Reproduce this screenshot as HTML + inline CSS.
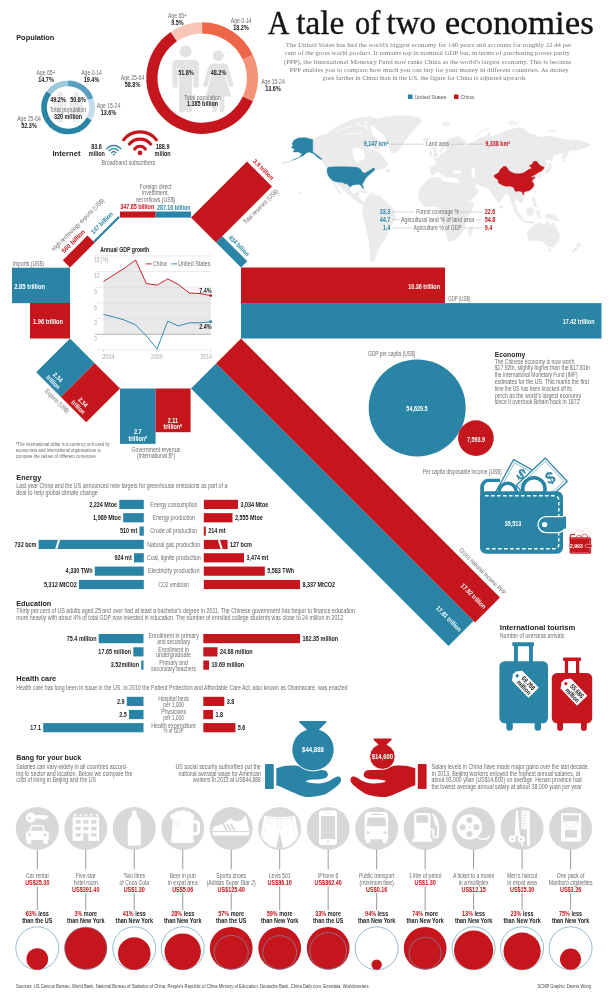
<!DOCTYPE html>
<html><head><meta charset="utf-8"><title>A tale of two economies</title>
<style>html,body{margin:0;padding:0;background:#fff}svg{display:block;will-change:transform}</style>
</head><body>
<svg width="612" height="1000" viewBox="0 0 612 1000">
<rect width="612" height="1000" fill="#fff"/>
<!-- title -->
<text transform="translate(267.70,33.80) scale(0.880,1)" font-family="'Liberation Serif',serif" font-size="34.00" fill="#151515" text-anchor="start" stroke="#151515" stroke-width="0.35">A</text>
<text transform="translate(296.30,33.80) scale(0.980,1)" font-family="'Liberation Serif',serif" font-size="34.00" fill="#151515" text-anchor="start" stroke="#151515" stroke-width="0.35">tale</text>
<text transform="translate(355.10,33.80) scale(0.893,1)" font-family="'Liberation Serif',serif" font-size="34.00" fill="#151515" text-anchor="start" stroke="#151515" stroke-width="0.35">of</text>
<text transform="translate(386.60,33.80) scale(0.971,1)" font-family="'Liberation Serif',serif" font-size="34.00" fill="#151515" text-anchor="start" stroke="#151515" stroke-width="0.35">two</text>
<text transform="translate(444.80,33.80) scale(1.025,1)" font-family="'Liberation Serif',serif" font-size="34.00" fill="#151515" text-anchor="start" stroke="#151515" stroke-width="0.35">economies</text>
<text transform="translate(285.80,47.30) scale(0.975,1)" font-family="'Liberation Serif',serif" font-size="7.00" fill="#7a7a7a" text-anchor="start">The United States has had the world's biggest economy for 140 years and accounts for roughly 22.44 per</text>
<text transform="translate(284.70,55.42) scale(0.980,1)" font-family="'Liberation Serif',serif" font-size="7.00" fill="#7a7a7a" text-anchor="start">cent of the gross world product. It remains top in nominal GDP but, in terms of purchasing power parity</text>
<text transform="translate(283.90,63.54) scale(0.981,1)" font-family="'Liberation Serif',serif" font-size="7.00" fill="#7a7a7a" text-anchor="start">(PPP), the International Monetary Fund now ranks China as the world's largest economy. This is because</text>
<text transform="translate(289.70,71.66) scale(0.984,1)" font-family="'Liberation Serif',serif" font-size="7.00" fill="#7a7a7a" text-anchor="start">PPP enables you to compare how much you can buy for your money in different countries. As money</text>
<text transform="translate(322.40,79.78) scale(0.938,1)" font-family="'Liberation Serif',serif" font-size="7.00" fill="#7a7a7a" text-anchor="start">goes further in China than in the US, the figure for China is adjusted upwards</text>
<rect x="408.00" y="94.50" width="4.50" height="4.50" fill="#2a84a6"/>
<text transform="translate(414.50,99.00) scale(0.987,1)" font-family="'Liberation Sans',sans-serif" font-size="5.40" fill="#555" text-anchor="start">United States</text>
<rect x="454.00" y="94.50" width="4.50" height="4.50" fill="#c4161c"/>
<text transform="translate(460.50,99.00) scale(0.957,1)" font-family="'Liberation Sans',sans-serif" font-size="5.40" fill="#555" text-anchor="start">China</text>
<text transform="translate(16.20,40.00) scale(0.924,1)" font-family="'Liberation Sans',sans-serif" font-size="8.00" font-weight="bold" fill="#222" text-anchor="start">Population</text>
<path d="M68.05,80.50 A26.90,26.90 0 0 1 93.30,98.13 L87.95,100.09 A21.20,21.20 0 0 0 68.05,86.20 Z" fill="#5b9fc0"/>
<path d="M93.30,98.13 A26.90,26.90 0 0 1 91.62,120.36 L86.63,117.61 A21.20,21.20 0 0 0 87.95,100.09 Z" fill="#c3ddeb"/>
<path d="M91.62,120.36 A26.90,26.90 0 1 1 46.59,91.18 L51.14,94.62 A21.20,21.20 0 1 0 86.63,117.61 Z" fill="#2a84a6"/>
<path d="M46.59,91.18 A26.90,26.90 0 0 1 68.05,80.50 L68.05,86.20 A21.20,21.20 0 0 0 51.14,94.62 Z" fill="#9cc8de"/>
<g transform="translate(60.20,91.50) scale(0.310)" fill="#ebebeb"><circle cx="0" cy="9" r="9"/><path d="M-14,22 h28 a6,6 0 0 1 6,6 v32 a4,4 0 0 1 -8,0 v-26 h-2 v62 a5,5 0 0 1 -10,0 v-36 h-0 v36 a5,5 0 0 1 -10,0 v-62 h-2 v26 a4,4 0 0 1 -8,0 v-32 a6,6 0 0 1 6,-6 z"/></g>
<g transform="translate(76.20,92.00) scale(0.300)" fill="#ebebeb"><circle cx="0" cy="9" r="9"/><path d="M-10,22 h20 a7,7 0 0 1 6,5 l9,30 a4,4 0 0 1 -7,2 l-8,-25 h-1 l12,42 h-11 v22 a4,4 0 0 1 -8,0 v-22 h-4 v22 a4,4 0 0 1 -8,0 v-22 h-11 l12,-42 h-1 l-8,25 a4,4 0 0 1 -7,-2 l9,-30 a7,7 0 0 1 6,-5 z"/></g>
<text transform="translate(58.00,101.50) scale(0.855,1)" font-family="'Liberation Sans',sans-serif" font-size="6.40" font-weight="bold" fill="#222" text-anchor="middle">49.2%</text>
<text transform="translate(78.00,101.50) scale(0.855,1)" font-family="'Liberation Sans',sans-serif" font-size="6.40" font-weight="bold" fill="#222" text-anchor="middle">50.8%</text>
<text transform="translate(68.00,112.00) scale(0.815,1)" font-family="'Liberation Sans',sans-serif" font-size="6.40" fill="#6d6d6d" text-anchor="middle">Total population</text>
<text transform="translate(68.00,118.60) scale(0.855,1)" font-family="'Liberation Sans',sans-serif" font-size="6.40" font-weight="bold" fill="#222" text-anchor="middle">320 million</text>
<text transform="translate(46.00,74.90) scale(0.800,1)" font-family="'Liberation Sans',sans-serif" font-size="6.40" fill="#6d6d6d" text-anchor="middle">Age 65+</text>
<text transform="translate(46.00,81.50) scale(0.855,1)" font-family="'Liberation Sans',sans-serif" font-size="6.40" font-weight="bold" fill="#222" text-anchor="middle">14.7%</text>
<text transform="translate(91.50,74.90) scale(0.800,1)" font-family="'Liberation Sans',sans-serif" font-size="6.40" fill="#6d6d6d" text-anchor="middle">Age 0-14</text>
<text transform="translate(91.50,81.50) scale(0.855,1)" font-family="'Liberation Sans',sans-serif" font-size="6.40" font-weight="bold" fill="#222" text-anchor="middle">19.4%</text>
<text transform="translate(108.50,108.40) scale(0.800,1)" font-family="'Liberation Sans',sans-serif" font-size="6.40" fill="#6d6d6d" text-anchor="middle">Age 15-24</text>
<text transform="translate(108.50,115.00) scale(0.855,1)" font-family="'Liberation Sans',sans-serif" font-size="6.40" font-weight="bold" fill="#222" text-anchor="middle">13.6%</text>
<text transform="translate(29.00,120.90) scale(0.800,1)" font-family="'Liberation Sans',sans-serif" font-size="6.40" fill="#6d6d6d" text-anchor="middle">Age 25-64</text>
<text transform="translate(29.00,127.50) scale(0.855,1)" font-family="'Liberation Sans',sans-serif" font-size="6.40" font-weight="bold" fill="#222" text-anchor="middle">52.3%</text>
<path d="M202.10,22.30 A55.80,55.80 0 0 1 252.88,54.98 L242.69,59.62 A44.60,44.60 0 0 0 202.10,33.50 Z" fill="#ee6648"/>
<path d="M252.88,54.98 A55.80,55.80 0 0 1 252.88,101.22 L242.69,96.58 A44.60,44.60 0 0 0 242.69,59.62 Z" fill="#f4957a"/>
<path d="M252.88,101.22 A55.80,55.80 0 1 1 170.74,31.95 L177.03,41.21 A44.60,44.60 0 1 0 242.69,96.58 Z" fill="#c4161c"/>
<path d="M170.74,31.95 A55.80,55.80 0 0 1 202.10,22.30 L202.10,33.50 A44.60,44.60 0 0 0 177.03,41.21 Z" fill="#f9c5b6"/>
<g transform="translate(185.60,45.60) scale(0.660)" fill="#e3e3e3"><circle cx="0" cy="9" r="9"/><path d="M-14,22 h28 a6,6 0 0 1 6,6 v32 a4,4 0 0 1 -8,0 v-26 h-2 v62 a5,5 0 0 1 -10,0 v-36 h-0 v36 a5,5 0 0 1 -10,0 v-62 h-2 v26 a4,4 0 0 1 -8,0 v-32 a6,6 0 0 1 6,-6 z"/></g>
<g transform="translate(218.30,50.20) scale(0.610)" fill="#e3e3e3"><circle cx="0" cy="9" r="9"/><path d="M-10,22 h20 a7,7 0 0 1 6,5 l9,30 a4,4 0 0 1 -7,2 l-8,-25 h-1 l12,42 h-11 v22 a4,4 0 0 1 -8,0 v-22 h-4 v22 a4,4 0 0 1 -8,0 v-22 h-11 l12,-42 h-1 l-8,25 a4,4 0 0 1 -7,-2 l9,-30 a7,7 0 0 1 6,-5 z"/></g>
<text transform="translate(186.00,74.60) scale(0.855,1)" font-family="'Liberation Sans',sans-serif" font-size="6.40" font-weight="bold" fill="#222" text-anchor="middle">51.8%</text>
<text transform="translate(218.50,74.60) scale(0.855,1)" font-family="'Liberation Sans',sans-serif" font-size="6.40" font-weight="bold" fill="#222" text-anchor="middle">48.2%</text>
<text transform="translate(202.50,99.50) scale(0.815,1)" font-family="'Liberation Sans',sans-serif" font-size="6.40" fill="#6d6d6d" text-anchor="middle">Total population</text>
<text transform="translate(202.50,106.30) scale(0.855,1)" font-family="'Liberation Sans',sans-serif" font-size="6.40" font-weight="bold" fill="#222" text-anchor="middle">1.385 billion</text>
<text transform="translate(177.50,17.90) scale(0.800,1)" font-family="'Liberation Sans',sans-serif" font-size="6.40" fill="#6d6d6d" text-anchor="middle">Age 65+</text>
<text transform="translate(177.50,24.50) scale(0.855,1)" font-family="'Liberation Sans',sans-serif" font-size="6.40" font-weight="bold" fill="#222" text-anchor="middle">9.5%</text>
<text transform="translate(241.00,22.90) scale(0.800,1)" font-family="'Liberation Sans',sans-serif" font-size="6.40" fill="#6d6d6d" text-anchor="middle">Age 0-14</text>
<text transform="translate(241.00,29.50) scale(0.855,1)" font-family="'Liberation Sans',sans-serif" font-size="6.40" font-weight="bold" fill="#222" text-anchor="middle">18.2%</text>
<text transform="translate(273.00,84.40) scale(0.800,1)" font-family="'Liberation Sans',sans-serif" font-size="6.40" fill="#6d6d6d" text-anchor="middle">Age 15-24</text>
<text transform="translate(273.00,91.00) scale(0.855,1)" font-family="'Liberation Sans',sans-serif" font-size="6.40" font-weight="bold" fill="#222" text-anchor="middle">13.6%</text>
<text transform="translate(132.50,79.90) scale(0.800,1)" font-family="'Liberation Sans',sans-serif" font-size="6.40" fill="#6d6d6d" text-anchor="middle">Age 25-64</text>
<text transform="translate(132.50,86.50) scale(0.855,1)" font-family="'Liberation Sans',sans-serif" font-size="6.40" font-weight="bold" fill="#222" text-anchor="middle">58.8%</text>
<text transform="translate(52.50,156.30) scale(0.955,1)" font-family="'Liberation Sans',sans-serif" font-size="8.00" font-weight="bold" fill="#222" text-anchor="start">Internet</text>
<text transform="translate(96.60,149.30) scale(0.855,1)" font-family="'Liberation Sans',sans-serif" font-size="6.40" font-weight="bold" fill="#222" text-anchor="middle">83.6</text>
<text transform="translate(96.90,155.90) scale(0.855,1)" font-family="'Liberation Sans',sans-serif" font-size="6.40" font-weight="bold" fill="#222" text-anchor="middle">milion</text>
<text transform="translate(162.60,149.30) scale(0.855,1)" font-family="'Liberation Sans',sans-serif" font-size="6.40" font-weight="bold" fill="#222" text-anchor="middle">188.9</text>
<text transform="translate(162.60,155.90) scale(0.855,1)" font-family="'Liberation Sans',sans-serif" font-size="6.40" font-weight="bold" fill="#222" text-anchor="middle">milion</text>
<text transform="translate(128.40,164.50) scale(0.815,1)" font-family="'Liberation Sans',sans-serif" font-size="6.40" fill="#6d6d6d" text-anchor="middle">Broadband subscribers</text>
<circle cx="113.80" cy="154.50" r="1.01" fill="#2a84a6"/>
<path d="M111.50,152.83 A2.84,2.84 0 0 1 116.10,152.83" fill="none" stroke="#2a84a6" stroke-width="1.33" stroke-linecap="round"/>
<path d="M109.25,150.69 A5.93,5.93 0 0 1 118.35,150.69" fill="none" stroke="#2a84a6" stroke-width="1.33" stroke-linecap="round"/>
<path d="M106.78,148.82 A9.03,9.03 0 0 1 120.82,148.82" fill="none" stroke="#2a84a6" stroke-width="1.33" stroke-linecap="round"/>
<circle cx="140.00" cy="152.90" r="2.35" fill="#c4161c"/>
<path d="M134.66,149.02 A6.60,6.60 0 0 1 145.34,149.02" fill="none" stroke="#c4161c" stroke-width="3.10" stroke-linecap="round"/>
<path d="M129.43,144.03 A13.80,13.80 0 0 1 150.57,144.03" fill="none" stroke="#c4161c" stroke-width="3.10" stroke-linecap="round"/>
<path d="M123.68,139.68 A21.00,21.00 0 0 1 156.32,139.68" fill="none" stroke="#c4161c" stroke-width="3.10" stroke-linecap="round"/>
<!-- world map -->
<polygon points="312.80,139.40 320.00,136.00 327.00,134.00 334.00,128.50 343.50,123.60 355.00,118.70 369.00,116.80 377.00,118.70 374.00,123.00 370.00,128.00 372.00,134.00 378.00,141.00 381.00,147.00 376.00,149.00 372.00,146.00 366.00,147.00 370.00,150.00 378.00,152.00 384.00,158.00 388.00,165.00 383.00,169.00 377.00,170.00 374.60,168.00 370.00,172.50 364.00,173.40 361.00,171.00 357.00,167.50 328.00,166.70 326.50,168.00 322.00,160.00 318.00,155.00 312.80,152.00" fill="#ebebeb" stroke="#ebebeb" stroke-width="0.8" stroke-linejoin="round"/>
<polygon points="352.30,150.20 355.00,147.50 359.50,148.40 364.00,152.00 364.90,157.40 362.20,161.00 358.60,160.00 359.50,163.70 356.80,161.90 354.10,157.40" fill="#fff"/>
<path d="M338,131 L352,126 M356,124 L366,127 M344,134 L362,133 M365,121 L368,131" fill="none" stroke="#fff" stroke-width="0.9" stroke-linecap="round"/>
<polygon points="386.00,169.50 389.50,169.00 389.00,172.00 386.00,172.00" fill="#ebebeb" stroke="#ebebeb" stroke-width="0.8" stroke-linejoin="round"/>
<polygon points="371.96,123.63 375.88,119.71 384.71,117.16 398.43,115.78 412.16,116.37 420.98,118.73 421.96,121.67 417.06,126.57 412.16,131.47 407.25,137.35 402.35,144.22 397.45,151.08 393.53,153.24 390.59,151.08 388.63,144.22 385.69,137.35 381.76,132.45 375.88,128.53" fill="#ebebeb" stroke="#ebebeb" stroke-width="0.8" stroke-linejoin="round"/>
<ellipse cx="426" cy="139.5" rx="3.2" ry="1.6" fill="#ebebeb"/>
<polygon points="331.96,179.12 338.82,181.86 345.69,183.04 348.63,184.41 350.59,187.35 350.20,191.27 353.53,194.22 357.45,192.25 359.41,193.24 357.45,197.16 360.39,199.12 363.33,202.06 367.25,203.04 369.22,205.39 366.27,206.57 361.37,203.63 356.47,200.69 351.57,196.76 346.67,192.84 341.76,187.94 336.86,184.02" fill="#ebebeb" stroke="#ebebeb" stroke-width="0.8" stroke-linejoin="round"/>
<polygon points="332.94,180.49 335.88,185.39 338.82,190.29 340.78,193.24 339.61,193.63 336.86,189.31 333.92,184.41" fill="#ebebeb" stroke="#ebebeb" stroke-width="0.8" stroke-linejoin="round"/>
<polygon points="358.43,190.69 363.33,190.29 367.25,192.25 366.27,193.24 361.37,192.25" fill="#ebebeb" stroke="#ebebeb" stroke-width="0.8" stroke-linejoin="round"/>
<polygon points="369.22,193.63 373.14,193.63 373.14,195.20 369.22,195.20" fill="#ebebeb" stroke="#ebebeb" stroke-width="0.8" stroke-linejoin="round"/>
<polygon points="363.60,204.78 366.40,197.79 371.98,195.00 380.37,196.40 387.35,203.38 394.34,210.37 395.17,218.75 390.15,227.13 385.95,236.91 380.37,245.29 376.17,255.07 373.94,262.06 370.59,260.66 370.03,250.88 369.19,239.70 366.40,228.53 363.60,217.35 362.20,210.37" fill="#ebebeb" stroke="#ebebeb" stroke-width="0.8" stroke-linejoin="round"/>
<polygon points="430.20,172.60 430.20,167.70 434.10,165.80 437.10,161.90 434.10,158.90 439.00,157.00 442.00,154.00 445.90,152.10 446.90,148.00 444.50,146.50 442.00,150.50 440.60,152.60 441.20,148.50 444.60,142.50 449.40,139.30 458.40,136.60 464.40,140.30 466.00,143.30 462.80,146.00 466.00,147.00 469.00,143.60 475.60,141.30 480.00,138.00 486.00,136.50 489.40,132.60 491.50,136.50 498.80,134.10 505.90,131.20 514.10,128.80 518.80,127.60 525.90,129.40 527.50,133.00 533.00,134.60 540.00,137.60 549.40,136.20 555.30,137.40 565.90,139.70 575.30,140.30 583.50,141.50 590.60,145.00 587.00,146.40 581.20,149.10 575.30,150.30 569.60,150.00 566.50,156.00 563.50,162.00 562.40,157.40 564.00,152.50 555.30,155.00 549.40,158.50 545.90,160.30 547.00,165.00 544.00,169.70 541.00,173.60 540.00,178.50 538.00,175.60 534.20,179.50 534.20,186.40 529.30,191.30 524.40,193.20 523.40,199.10 521.40,203.00 518.50,201.00 516.50,197.20 514.50,203.00 516.50,209.00 518.50,212.80 515.50,211.90 512.60,205.00 510.60,199.10 508.70,194.20 503.80,191.30 507.60,191.30 498.80,203.00 488.00,187.40 482.20,186.40 476.30,183.40 474.30,187.40 479.20,191.30 470.40,201.00 465.50,199.10 459.60,185.40 459.60,179.50 454.70,177.50 448.80,176.60 446.90,178.50 444.90,174.60 442.00,172.60 443.90,177.50 440.00,172.60 437.10,170.70 435.10,173.60 432.20,175.60" fill="#ebebeb" stroke="#ebebeb" stroke-width="0.8" stroke-linejoin="round"/>
<ellipse cx="457" cy="172" rx="4.5" ry="1.8" fill="#fff"/>
<ellipse cx="473.3" cy="172.5" rx="1.8" ry="5" fill="#fff"/>
<polygon points="508.00,122.50 513.00,120.80 518.50,123.00 516.00,125.00 510.00,124.60" fill="#f1f1f1" stroke="#f1f1f1" stroke-width="0.8" stroke-linejoin="round"/>
<polygon points="546.00,130.40 552.00,130.00 557.50,131.00 552.00,131.80" fill="#f1f1f1" stroke="#f1f1f1" stroke-width="0.8" stroke-linejoin="round"/>
<polygon points="432.50,147.50 435.00,147.00 436.00,151.00 437.50,155.50 433.50,157.00 434.00,152.50" fill="#ebebeb" stroke="#ebebeb" stroke-width="0.8" stroke-linejoin="round"/>
<polygon points="429.50,152.00 431.50,152.00 431.50,155.00 429.50,155.00" fill="#ebebeb" stroke="#ebebeb" stroke-width="0.8" stroke-linejoin="round"/>
<path d="M476.6,136.6 Q479,131.5 485.4,129.5 L488.6,128.6" fill="none" stroke="#ebebeb" stroke-width="1.3" stroke-linecap="round"/>
<polygon points="442.00,123.00 446.00,121.50 450.00,123.00 449.00,126.50 444.00,126.50" fill="#f1f1f1" stroke="#f1f1f1" stroke-width="0.8" stroke-linejoin="round"/>
<polygon points="424.30,183.40 429.20,178.50 440.00,177.50 443.00,181.50 448.80,182.50 457.60,183.40 461.60,191.30 466.50,201.00 474.30,203.00 470.40,212.80 465.50,220.70 464.50,228.50 460.60,234.40 454.70,240.30 448.80,241.30 445.90,234.40 443.90,226.60 441.00,218.70 442.00,211.90 438.00,207.00 432.20,206.00 425.30,207.00 420.40,202.00 418.40,195.20 419.40,189.30" fill="#ebebeb" stroke="#ebebeb" stroke-width="0.8" stroke-linejoin="round"/>
<polygon points="470.00,227.00 472.60,226.60 472.00,233.00 469.50,236.40 468.40,232.00" fill="#ebebeb" stroke="#ebebeb" stroke-width="0.8" stroke-linejoin="round"/>
<polygon points="549.84,162.84 551.80,165.78 549.84,170.69 545.92,173.63 544.55,172.06 548.08,168.73 548.86,164.80" fill="#ebebeb" stroke="#ebebeb" stroke-width="0.8" stroke-linejoin="round"/>
<polygon points="550.82,156.96 553.18,157.94 551.80,160.88 550.04,159.90" fill="#ebebeb" stroke="#ebebeb" stroke-width="0.8" stroke-linejoin="round"/>
<polygon points="534.75,190.29 535.92,191.27 534.75,193.63" fill="#ebebeb" stroke="#ebebeb" stroke-width="0.8" stroke-linejoin="round"/>
<polygon points="532.20,197.16 534.75,197.55 535.53,202.06 536.71,206.96 534.16,206.57 533.18,202.06" fill="#ebebeb" stroke="#ebebeb" stroke-width="0.8" stroke-linejoin="round"/>
<polygon points="513.18,208.92 516.51,210.88 521.41,216.76 523.76,220.69 521.41,220.29 517.10,215.20" fill="#ebebeb" stroke="#ebebeb" stroke-width="0.8" stroke-linejoin="round"/>
<polygon points="526.90,208.92 532.20,206.96 534.16,211.86 531.22,215.78 527.29,214.80" fill="#ebebeb" stroke="#ebebeb" stroke-width="0.8" stroke-linejoin="round"/>
<polygon points="523.37,221.08 534.16,222.06 534.16,223.24 523.37,222.25" fill="#ebebeb" stroke="#ebebeb" stroke-width="0.8" stroke-linejoin="round"/>
<polygon points="536.71,210.88 540.04,210.49 539.06,214.80 540.63,217.75 538.27,217.75" fill="#ebebeb" stroke="#ebebeb" stroke-width="0.8" stroke-linejoin="round"/>
<polygon points="544.94,214.80 549.84,213.82 554.75,215.78 559.65,220.69 554.75,220.29 549.84,218.33 545.92,217.16" fill="#ebebeb" stroke="#ebebeb" stroke-width="0.8" stroke-linejoin="round"/>
<polygon points="528.30,230.50 533.20,225.60 540.00,222.60 544.00,224.60 547.90,221.70 550.80,226.60 553.00,222.50 556.00,228.00 559.60,234.40 557.70,242.30 552.80,247.20 546.90,246.20 543.00,241.30 536.10,240.30 529.30,240.80 527.30,234.40" fill="#ebebeb" stroke="#ebebeb" stroke-width="0.8" stroke-linejoin="round"/>
<polygon points="548.00,249.00 551.00,249.00 550.00,252.00" fill="#ebebeb" stroke="#ebebeb" stroke-width="0.8" stroke-linejoin="round"/>
<polygon points="578.27,242.25 580.63,244.61 578.27,247.75 576.71,246.57" fill="#ebebeb" stroke="#ebebeb" stroke-width="0.8" stroke-linejoin="round"/>
<polygon points="575.33,247.75 577.49,248.53 573.37,252.45 572.00,251.67" fill="#ebebeb" stroke="#ebebeb" stroke-width="0.8" stroke-linejoin="round"/>
<polygon points="501.00,205.00 502.50,206.00 502.00,209.00 500.50,208.00" fill="#ebebeb" stroke="#ebebeb" stroke-width="0.8" stroke-linejoin="round"/>
<polygon points="327.16,169.06 328.06,167.27 334.35,166.73 346.94,166.73 356.83,167.27 360.43,169.06 362.23,172.12 364.93,173.20 367.63,171.40 370.32,169.96 372.12,168.71 373.92,167.81 375.00,169.60 373.02,171.40 371.22,173.20 368.53,175.36 366.37,177.52 364.93,179.86 363.49,182.19 362.41,184.35 363.13,187.05 363.67,188.85 362.23,187.95 360.97,185.25 358.63,184.35 355.04,184.71 352.34,185.25 350.18,187.05 348.74,185.79 346.94,183.45 344.78,183.99 342.99,182.55 339.75,182.19 336.15,181.65 332.91,180.76 329.86,178.06 327.70,174.46 326.98,171.40" fill="#2a84a6" stroke="#2a84a6" stroke-width="0.4" stroke-linejoin="round"/>
<polygon points="292.09,143.88 293.88,140.29 298.38,137.95 304.68,137.59 312.77,139.39 312.77,151.98 315.47,153.78 319.60,157.01 322.12,159.17 320.86,159.53 317.27,157.01 313.67,153.78 309.17,151.98 305.58,153.42 303.78,155.22 300.18,155.94 301.98,153.78 298.38,151.98 292.99,151.98 294.78,149.28 291.19,147.48 292.99,145.68" fill="#2a84a6" stroke="#2a84a6" stroke-width="0.4" stroke-linejoin="round"/>
<path d="M303.78,154.86 L298.38,157.73 L292.99,160.07" fill="none" stroke="#2a84a6" stroke-width="0.9" stroke-linecap="round"/>
<path d="M292.63,160.25 Q287.59,162.05 281.29,163.31" fill="none" stroke="#8fbdd1" stroke-width="0.5" stroke-dasharray="1.2,0.8" stroke-linecap="round"/>
<circle cx="299.5" cy="193" r="0.6" fill="#7db5cc"/>
<polygon points="493.75,175.71 495.84,174.35 498.46,172.78 499.50,170.69 501.07,168.59 503.69,166.50 505.78,166.29 507.35,168.07 508.92,170.69 511.53,172.25 515.19,173.61 519.37,173.82 523.56,172.78 526.69,170.69 529.31,169.12 531.92,168.39 530.35,166.50 529.31,165.46 531.92,164.41 532.97,162.32 534.54,161.07 536.63,161.27 538.20,163.37 540.29,165.46 542.90,166.71 544.47,167.55 543.42,169.12 541.86,170.69 539.76,171.73 537.15,173.30 535.06,174.87 532.44,175.92 530.88,176.96 532.44,177.48 534.01,176.44 535.06,177.48 532.97,179.58 531.92,181.14 533.49,183.24 534.01,185.33 532.44,187.94 530.35,190.03 527.74,191.08 525.12,191.60 523.56,192.44 524.08,194.53 523.03,194.74 522.51,192.65 520.94,191.60 518.33,191.08 516.24,191.81 514.67,190.56 514.14,188.46 512.58,186.90 510.48,186.37 507.87,186.37 505.25,186.16 502.64,185.33 500.03,183.76 497.93,182.40 498.46,180.62 496.89,179.05 494.80,177.48" fill="#c4161c" stroke="#c4161c" stroke-width="0.3" stroke-linejoin="round"/>
<text transform="translate(388.60,146.20) scale(0.855,1)" font-family="'Liberation Sans',sans-serif" font-size="6.40" font-weight="bold" fill="#2a84a6" text-anchor="end">9,147 km²</text>
<line x1="390.50" y1="144.20" x2="424.30" y2="144.20" stroke="#999" stroke-width="0.40"/>
<text transform="translate(437.50,146.20) scale(0.798,1)" font-family="'Liberation Sans',sans-serif" font-size="6.40" fill="#6d6d6d" text-anchor="middle">Land area</text>
<line x1="450.50" y1="144.20" x2="483.20" y2="144.20" stroke="#999" stroke-width="0.40"/>
<text transform="translate(485.20,146.20) scale(0.855,1)" font-family="'Liberation Sans',sans-serif" font-size="6.40" font-weight="bold" fill="#c4161c" text-anchor="start">9,338 km²</text>
<text transform="translate(390.30,214.00) scale(0.855,1)" font-family="'Liberation Sans',sans-serif" font-size="6.40" font-weight="bold" fill="#2a84a6" text-anchor="end">33.3</text>
<text transform="translate(437.60,214.00) scale(0.801,1)" font-family="'Liberation Sans',sans-serif" font-size="6.40" fill="#6d6d6d" text-anchor="middle">Forest coverage %</text>
<line x1="392.30" y1="211.90" x2="414.60" y2="211.90" stroke="#999" stroke-width="0.40"/>
<line x1="460.60" y1="211.90" x2="482.30" y2="211.90" stroke="#999" stroke-width="0.40"/>
<text transform="translate(484.70,214.00) scale(0.855,1)" font-family="'Liberation Sans',sans-serif" font-size="6.40" font-weight="bold" fill="#c4161c" text-anchor="start">22.6</text>
<text transform="translate(390.30,221.90) scale(0.855,1)" font-family="'Liberation Sans',sans-serif" font-size="6.40" font-weight="bold" fill="#2a84a6" text-anchor="end">44.7</text>
<text transform="translate(437.60,221.90) scale(0.826,1)" font-family="'Liberation Sans',sans-serif" font-size="6.40" fill="#6d6d6d" text-anchor="middle">Agricultural land % of land area</text>
<line x1="392.30" y1="219.80" x2="399.35" y2="219.80" stroke="#999" stroke-width="0.40"/>
<line x1="475.85" y1="219.80" x2="482.30" y2="219.80" stroke="#999" stroke-width="0.40"/>
<text transform="translate(484.70,221.90) scale(0.855,1)" font-family="'Liberation Sans',sans-serif" font-size="6.40" font-weight="bold" fill="#c4161c" text-anchor="start">54.8</text>
<text transform="translate(390.30,230.00) scale(0.855,1)" font-family="'Liberation Sans',sans-serif" font-size="6.40" font-weight="bold" fill="#2a84a6" text-anchor="end">1.4</text>
<text transform="translate(437.60,230.00) scale(0.797,1)" font-family="'Liberation Sans',sans-serif" font-size="6.40" fill="#6d6d6d" text-anchor="middle">Agriculture % of GDP</text>
<line x1="392.30" y1="227.90" x2="411.85" y2="227.90" stroke="#999" stroke-width="0.40"/>
<line x1="463.35" y1="227.90" x2="482.30" y2="227.90" stroke="#999" stroke-width="0.40"/>
<text transform="translate(484.70,230.00) scale(0.855,1)" font-family="'Liberation Sans',sans-serif" font-size="6.40" font-weight="bold" fill="#c4161c" text-anchor="start">9.4</text>
<!-- octagon -->
<rect x="12.00" y="267.70" width="58.00" height="35.50" fill="#2a84a6"/>
<rect x="30.00" y="303.00" width="40.00" height="35.50" fill="#c4161c"/>
<text transform="translate(12.50,265.60) scale(0.791,1)" font-family="'Liberation Sans',sans-serif" font-size="6.40" fill="#6d6d6d" text-anchor="start">Imports (US$)</text>
<text transform="translate(14.20,288.70) scale(0.918,1)" font-family="'Liberation Sans',sans-serif" font-size="6.40" font-weight="bold" fill="#fff" text-anchor="start">2.85 trillion</text>
<text transform="translate(33.00,324.20) scale(0.888,1)" font-family="'Liberation Sans',sans-serif" font-size="6.40" font-weight="bold" fill="#fff" text-anchor="start">1.96 trillion</text>
<polygon points="70.00,267.50 94.70,242.80 87.50,235.60 62.80,260.30" fill="#c4161c"/>
<polygon points="94.70,242.80 120.00,217.50 118.40,215.90 93.10,241.20" fill="#2a84a6"/>
<text transform="translate(64.20,253.50) rotate(-45.00) scale(0.959,1)" font-family="'Liberation Sans',sans-serif" font-size="6.40" font-weight="bold" fill="#c4161c" text-anchor="start">560 billion</text>
<text transform="translate(93.50,234.50) rotate(-45.00) scale(0.911,1)" font-family="'Liberation Sans',sans-serif" font-size="6.40" font-weight="bold" fill="#2a84a6" text-anchor="start">147 billion</text>
<text transform="translate(54.00,251.50) rotate(-45.00) scale(0.817,1)" font-family="'Liberation Sans',sans-serif" font-size="6.40" fill="#6d6d6d" text-anchor="start">High-technology exports (US$)</text>
<rect x="120.00" y="211.50" width="35.60" height="6.10" fill="#c4161c"/>
<rect x="155.60" y="211.50" width="35.40" height="6.10" fill="#2a84a6"/>
<text transform="translate(120.30,209.00) scale(0.846,1)" font-family="'Liberation Sans',sans-serif" font-size="6.40" font-weight="bold" fill="#c4161c" text-anchor="start">347.85 billion</text>
<text transform="translate(157.00,210.30) scale(0.834,1)" font-family="'Liberation Sans',sans-serif" font-size="6.40" font-weight="bold" fill="#2a84a6" text-anchor="start">287.16 billion</text>
<text transform="translate(155.50,188.50) scale(0.815,1)" font-family="'Liberation Sans',sans-serif" font-size="6.40" fill="#6d6d6d" text-anchor="middle">Foreign direct</text>
<text transform="translate(155.50,195.10) scale(0.815,1)" font-family="'Liberation Sans',sans-serif" font-size="6.40" fill="#6d6d6d" text-anchor="middle">investment,</text>
<text transform="translate(155.50,201.70) scale(0.815,1)" font-family="'Liberation Sans',sans-serif" font-size="6.40" fill="#6d6d6d" text-anchor="middle">net inflows (US$)</text>
<polygon points="191.00,217.50 216.00,242.50 272.00,186.50 247.00,161.50" fill="#c4161c"/>
<polygon points="216.00,242.50 241.00,267.50 247.30,261.20 222.30,236.20" fill="#2a84a6"/>
<text transform="translate(252.60,161.80) rotate(45.00) scale(0.870,1)" font-family="'Liberation Sans',sans-serif" font-size="6.40" font-weight="bold" fill="#c4161c" text-anchor="start">3.9 trillion</text>
<text transform="translate(245.80,224.50) rotate(-45.00) scale(0.797,1)" font-family="'Liberation Sans',sans-serif" font-size="6.40" fill="#6d6d6d" text-anchor="start">Total reserves (US$)</text>
<text transform="translate(228.20,238.00) rotate(45.00) scale(0.847,1)" font-family="'Liberation Sans',sans-serif" font-size="6.40" font-weight="bold" fill="#2a84a6" text-anchor="start">434 billion</text>
<rect x="241.00" y="267.50" width="204.00" height="35.70" fill="#c4161c"/>
<rect x="241.00" y="303.10" width="360.50" height="35.40" fill="#2a84a6"/>
<text transform="translate(440.00,288.70) scale(0.855,1)" font-family="'Liberation Sans',sans-serif" font-size="6.40" font-weight="bold" fill="#fff" text-anchor="end">10.36 trillion</text>
<text transform="translate(448.30,300.60) scale(0.682,1)" font-family="'Liberation Sans',sans-serif" font-size="6.40" fill="#6d6d6d" text-anchor="start">GDP (US$)</text>
<text transform="translate(594.50,323.70) scale(0.855,1)" font-family="'Liberation Sans',sans-serif" font-size="6.40" font-weight="bold" fill="#fff" text-anchor="end">17.42 trillion</text>
<polygon points="241.00,338.50 500.00,597.50 475.00,622.50 216.00,363.50" fill="#c4161c"/>
<polygon points="216.00,363.50 473.50,621.00 448.50,646.00 191.00,388.50" fill="#2a84a6"/>
<text transform="translate(460.20,586.00) rotate(45.00) scale(0.857,1)" font-family="'Liberation Sans',sans-serif" font-size="6.60" font-weight="bold" fill="#fff" text-anchor="start">17.92 trillion</text>
<text transform="translate(435.40,608.60) rotate(45.00) scale(0.857,1)" font-family="'Liberation Sans',sans-serif" font-size="6.60" font-weight="bold" fill="#fff" text-anchor="start">17.81 trillion</text>
<text transform="translate(458.70,550.50) rotate(45.00) scale(0.811,1)" font-family="'Liberation Sans',sans-serif" font-size="6.40" fill="#6d6d6d" text-anchor="start">Gross national income PPP</text>
<rect x="120.00" y="388.50" width="35.60" height="55.40" fill="#2a84a6"/>
<rect x="155.60" y="388.50" width="35.00" height="43.70" fill="#c4161c"/>
<text transform="translate(137.80,434.00) scale(0.855,1)" font-family="'Liberation Sans',sans-serif" font-size="6.40" font-weight="bold" fill="#fff" text-anchor="middle">2.7</text>
<text transform="translate(137.80,440.70) scale(0.855,1)" font-family="'Liberation Sans',sans-serif" font-size="6.40" font-weight="bold" fill="#fff" text-anchor="middle">trillion*</text>
<text transform="translate(172.80,422.60) scale(0.855,1)" font-family="'Liberation Sans',sans-serif" font-size="6.40" font-weight="bold" fill="#fff" text-anchor="middle">2.11</text>
<text transform="translate(172.80,429.30) scale(0.855,1)" font-family="'Liberation Sans',sans-serif" font-size="6.40" font-weight="bold" fill="#fff" text-anchor="middle">trillion*</text>
<text transform="translate(156.00,451.70) scale(0.815,1)" font-family="'Liberation Sans',sans-serif" font-size="6.40" fill="#6d6d6d" text-anchor="middle">Government revenue</text>
<text transform="translate(156.00,458.10) scale(0.815,1)" font-family="'Liberation Sans',sans-serif" font-size="6.40" fill="#6d6d6d" text-anchor="middle">(international $*)</text>
<polygon points="70.00,338.50 94.70,363.20 60.90,397.00 36.20,372.30" fill="#2a84a6"/>
<polygon points="94.70,363.20 120.00,388.50 86.20,422.30 60.90,397.00" fill="#c4161c"/>
<text transform="translate(56.30,378.80) rotate(45.00) scale(0.855,1)" font-family="'Liberation Sans',sans-serif" font-size="6.40" font-weight="bold" fill="#fff" text-anchor="middle">2.34</text>
<text transform="translate(51.60,383.70) rotate(45.00) scale(0.855,1)" font-family="'Liberation Sans',sans-serif" font-size="6.40" font-weight="bold" fill="#fff" text-anchor="middle">trillion</text>
<text transform="translate(81.40,403.80) rotate(45.00) scale(0.855,1)" font-family="'Liberation Sans',sans-serif" font-size="6.40" font-weight="bold" fill="#fff" text-anchor="middle">2.34</text>
<text transform="translate(76.70,408.70) rotate(45.00) scale(0.855,1)" font-family="'Liberation Sans',sans-serif" font-size="6.40" font-weight="bold" fill="#fff" text-anchor="middle">trillion</text>
<text transform="translate(44.50,391.50) rotate(45.00) scale(0.784,1)" font-family="'Liberation Sans',sans-serif" font-size="6.40" fill="#6d6d6d" text-anchor="start">Exports (US$)</text>
<text transform="translate(15.80,446.30) scale(0.852,1)" font-family="'Liberation Sans',sans-serif" font-size="5.00" fill="#6d6d6d" text-anchor="start">*The international dollar is a currency unit used by</text>
<text transform="translate(15.80,452.35) scale(0.852,1)" font-family="'Liberation Sans',sans-serif" font-size="5.00" fill="#6d6d6d" text-anchor="start">economists and international organisations to</text>
<text transform="translate(15.80,458.40) scale(0.860,1)" font-family="'Liberation Sans',sans-serif" font-size="5.00" fill="#6d6d6d" text-anchor="start">compare the values of different currencies</text>
<polygon points="103.40,281.48 114.13,274.68 124.86,267.88 135.59,260.03 146.32,283.57 157.05,285.14 167.78,278.86 178.51,284.62 189.24,292.98 199.97,293.51 210.70,295.60 210.70,334.30 103.40,334.30" fill="#e9e9e9"/>
<line x1="94.80" y1="255.85" x2="211.20" y2="255.85" stroke="#cfcfcf" stroke-width="0.45"/>
<line x1="94.80" y1="271.54" x2="211.20" y2="271.54" stroke="#cfcfcf" stroke-width="0.45"/>
<line x1="94.80" y1="287.23" x2="211.20" y2="287.23" stroke="#cfcfcf" stroke-width="0.45"/>
<line x1="94.80" y1="302.92" x2="211.20" y2="302.92" stroke="#cfcfcf" stroke-width="0.45"/>
<line x1="94.80" y1="318.61" x2="211.20" y2="318.61" stroke="#cfcfcf" stroke-width="0.45"/>
<line x1="94.80" y1="334.30" x2="211.20" y2="334.30" stroke="#888" stroke-width="0.60"/>
<line x1="94.80" y1="349.70" x2="211.20" y2="349.70" stroke="#cfcfcf" stroke-width="0.45"/>
<line x1="103.40" y1="349.70" x2="103.40" y2="352.00" stroke="#aaa" stroke-width="0.45"/>
<line x1="157.05" y1="349.70" x2="157.05" y2="352.00" stroke="#aaa" stroke-width="0.45"/>
<line x1="210.70" y1="349.70" x2="210.70" y2="352.00" stroke="#aaa" stroke-width="0.45"/>
<polyline points="103.40,281.48 114.13,274.68 124.86,267.88 135.59,260.03 146.32,283.57 157.05,285.14 167.78,278.86 178.51,284.62 189.24,292.98 199.97,293.51 210.70,295.60" fill="none" stroke="#c4161c" stroke-width="0.95" stroke-linejoin="round"/>
<polyline points="103.40,314.43 114.13,317.04 124.86,320.18 135.59,324.89 146.32,335.87 157.05,348.94 167.78,321.23 178.51,325.93 189.24,322.79 199.97,322.79 210.70,321.75" fill="none" stroke="#2a84a6" stroke-width="0.95" stroke-linejoin="round"/>
<circle cx="210.70" cy="295.60" r="1.40" fill="#c4161c"/>
<circle cx="210.70" cy="321.75" r="1.40" fill="#2a84a6"/>
<text transform="translate(100.20,251.80) scale(0.812,1)" font-family="'Liberation Sans',sans-serif" font-size="6.40" font-weight="bold" fill="#222" text-anchor="start">Annual GDP growth</text>
<text transform="translate(94.00,262.40) scale(0.769,1)" font-family="'Liberation Sans',sans-serif" font-size="6.40" fill="#aaa" text-anchor="start">15 (%)</text>
<text transform="translate(94.00,278.14) scale(0.815,1)" font-family="'Liberation Sans',sans-serif" font-size="6.40" fill="#aaa" text-anchor="start">12</text>
<text transform="translate(94.00,293.83) scale(0.815,1)" font-family="'Liberation Sans',sans-serif" font-size="6.40" fill="#aaa" text-anchor="start">9</text>
<text transform="translate(94.00,309.52) scale(0.815,1)" font-family="'Liberation Sans',sans-serif" font-size="6.40" fill="#aaa" text-anchor="start">6</text>
<text transform="translate(94.00,325.21) scale(0.815,1)" font-family="'Liberation Sans',sans-serif" font-size="6.40" fill="#aaa" text-anchor="start">3</text>
<text transform="translate(94.00,340.90) scale(0.815,1)" font-family="'Liberation Sans',sans-serif" font-size="6.40" fill="#aaa" text-anchor="start">0</text>
<text transform="translate(102.20,358.50) scale(0.878,1)" font-family="'Liberation Sans',sans-serif" font-size="6.40" fill="#aaa" text-anchor="start">2004</text>
<text transform="translate(156.80,358.50) scale(0.815,1)" font-family="'Liberation Sans',sans-serif" font-size="6.40" fill="#aaa" text-anchor="middle">2009</text>
<text transform="translate(212.00,358.50) scale(0.815,1)" font-family="'Liberation Sans',sans-serif" font-size="6.40" fill="#aaa" text-anchor="end">2014</text>
<line x1="145.80" y1="263.90" x2="151.70" y2="263.90" stroke="#c4161c" stroke-width="0.95"/>
<text transform="translate(153.10,266.10) scale(0.807,1)" font-family="'Liberation Sans',sans-serif" font-size="6.40" fill="#6d6d6d" text-anchor="start">China</text>
<line x1="171.30" y1="263.90" x2="177.00" y2="263.90" stroke="#2a84a6" stroke-width="0.95"/>
<text transform="translate(178.10,266.10) scale(0.846,1)" font-family="'Liberation Sans',sans-serif" font-size="6.40" fill="#6d6d6d" text-anchor="start">United States</text>
<text transform="translate(211.70,292.80) scale(0.855,1)" font-family="'Liberation Sans',sans-serif" font-size="6.40" font-weight="bold" fill="#222" text-anchor="end">7.4%</text>
<text transform="translate(211.70,329.40) scale(0.855,1)" font-family="'Liberation Sans',sans-serif" font-size="6.40" font-weight="bold" fill="#222" text-anchor="end">2.4%</text>
<!-- gdp per capita -->
<text transform="translate(368.00,355.80) scale(0.765,1)" font-family="'Liberation Sans',sans-serif" font-size="6.40" fill="#6d6d6d" text-anchor="start">GDP per capita (US$)</text>
<circle cx="417.20" cy="407.90" r="48.50" fill="#2a84a6"/>
<circle cx="475.90" cy="438.10" r="17.80" fill="#c4161c"/>
<text transform="translate(417.00,411.40) scale(0.855,1)" font-family="'Liberation Sans',sans-serif" font-size="6.40" font-weight="bold" fill="#fff" text-anchor="middle">54,629.5</text>
<text transform="translate(476.00,441.70) scale(0.855,1)" font-family="'Liberation Sans',sans-serif" font-size="6.40" font-weight="bold" fill="#fff" text-anchor="middle">7,593.9</text>
<text transform="translate(494.70,357.00) scale(0.869,1)" font-family="'Liberation Sans',sans-serif" font-size="7.80" font-weight="bold" fill="#222" text-anchor="start">Economy</text>
<text transform="translate(494.70,363.60) scale(0.789,1)" font-family="'Liberation Sans',sans-serif" font-size="6.40" fill="#6d6d6d" text-anchor="start">The Chinese economy is now worth</text>
<text transform="translate(494.70,370.38) scale(0.801,1)" font-family="'Liberation Sans',sans-serif" font-size="6.40" fill="#6d6d6d" text-anchor="start">$17.92tn, slightly higher than the $17.81tn</text>
<text transform="translate(494.70,377.16) scale(0.770,1)" font-family="'Liberation Sans',sans-serif" font-size="6.40" fill="#6d6d6d" text-anchor="start">the International Monetary Fund (IMF)</text>
<text transform="translate(494.70,383.94) scale(0.818,1)" font-family="'Liberation Sans',sans-serif" font-size="6.40" fill="#6d6d6d" text-anchor="start">estimates for the US. This marks the first</text>
<text transform="translate(494.70,390.72) scale(0.744,1)" font-family="'Liberation Sans',sans-serif" font-size="6.40" fill="#6d6d6d" text-anchor="start">time the US has been knocked off its</text>
<text transform="translate(494.70,397.50) scale(0.820,1)" font-family="'Liberation Sans',sans-serif" font-size="6.40" fill="#6d6d6d" text-anchor="start">perch as the world's largest economy</text>
<text transform="translate(494.70,404.28) scale(0.816,1)" font-family="'Liberation Sans',sans-serif" font-size="6.40" fill="#6d6d6d" text-anchor="start">since it overtook Britain back in 1872</text>
<text transform="translate(422.80,473.80) scale(0.774,1)" font-family="'Liberation Sans',sans-serif" font-size="6.40" fill="#6d6d6d" text-anchor="start">Per capita disposable income (US$)</text>
<!-- wallet -->
<g transform="translate(513.6,459.6) rotate(29)"><rect x="0" y="0" width="22.5" height="37" fill="#fff" stroke="#2a84a6" stroke-width="1.3" stroke-linejoin="round"/><rect x="2.4" y="2.4" width="17.7" height="32" fill="none" stroke="#2a84a6" stroke-width="0.5"/></g>
<g transform="translate(545.4,458.1) rotate(47)"><rect x="0" y="0" width="32" height="40" fill="#fff" stroke="#2a84a6" stroke-width="1.3" stroke-linejoin="round"/><rect x="2.4" y="2.4" width="27.2" height="35.2" fill="none" stroke="#2a84a6" stroke-width="0.5"/></g>
<text transform="translate(552.60,483.20) rotate(-24.00) scale(0.950,1)" font-family="'Liberation Sans',sans-serif" font-size="17.00" font-weight="bold" fill="#2a84a6" text-anchor="middle">$</text>
<text transform="translate(518.70,478.90) rotate(27.00) scale(0.950,1)" font-family="'Liberation Sans',sans-serif" font-size="15.00" font-weight="bold" fill="#2a84a6" text-anchor="middle">$</text>
<circle cx="507.6" cy="491.8" r="8.6" fill="#fff" stroke="#2a84a6" stroke-width="3.4"/>
<circle cx="533.9" cy="488.9" r="11.2" fill="#fff" stroke="#2a84a6" stroke-width="3.6"/>
<path d="M480.2,505 V487 a8.2,8.2 0 0 1 8.2,-8.2 H500 v3.2 H489 a5,5 0 0 0 -5,5 V505 Z" fill="#2a84a6"/>
<rect x="480" y="491.2" width="83" height="62.6" rx="6" ry="6" fill="#2a84a6"/>
<path d="M485,495.8 H554.6 a4.2,4.2 0 0 1 4.2,4.2 V544.6 a4.2,4.2 0 0 1 -4.2,4.2 H485" fill="none" stroke="#fff" stroke-width="1.4" stroke-dasharray="3.6,2.4"/>
<path d="M565.8,516.6 H546 a8,8 0 0 0 0,16 H558 a7.8,7.8 0 0 0 7.8,-7.8 Z" fill="#2a84a6" stroke="#fff" stroke-width="1.3"/>
<rect x="562.90" y="516.60" width="3.20" height="12.00" fill="#2a84a6"/>
<circle cx="544.60" cy="524.60" r="2.70" fill="#fff"/>
<text transform="translate(513.00,526.20) scale(0.855,1)" font-family="'Liberation Sans',sans-serif" font-size="6.40" font-weight="bold" fill="#fff" text-anchor="middle">39,513</text>
<g transform="translate(577.2,529.2) rotate(27)"><rect x="0" y="0" width="6.4" height="9" fill="#fff" stroke="#e9a0a3" stroke-width="0.4"/></g>
<g transform="translate(586.2,528.2) rotate(47)"><rect x="0" y="0" width="7.6" height="9" fill="#fff" stroke="#e9a0a3" stroke-width="0.4"/></g>
<circle cx="578.8" cy="537.6" r="2.4" fill="#fff" stroke="#d9595d" stroke-width="0.9"/>
<circle cx="584.6" cy="537" r="3" fill="#fff" stroke="#d9595d" stroke-width="0.9"/>
<path d="M569.6,540 V536 a2,2 0 0 1 2,-2 H575 v0.9 H572 a1.2,1.2 0 0 0 -1.2,1.2 V540 Z" fill="#c4161c"/>
<rect x="569.6" y="537.3" width="21.5" height="16.5" rx="1.6" ry="1.6" fill="#c4161c"/>
<path d="M571,538.4 H588.6 a1.1,1.1 0 0 1 1.1,1.1 V551.6 a1.1,1.1 0 0 1 -1.1,1.1 H571" fill="none" stroke="#fff" stroke-width="0.45" stroke-dasharray="0.9,0.7"/>
<path d="M591.8,544.3 H586.6 a1.6,1.6 0 0 0 0,3.2 H591.8 Z" fill="#c4161c" stroke="#fff" stroke-width="0.45"/>
<text transform="translate(576.40,548.10) scale(0.838,1)" font-family="'Liberation Sans',sans-serif" font-size="6.20" font-weight="bold" fill="#fff" text-anchor="middle">2,993</text>
<!-- tourism -->
<text transform="translate(499.80,629.50) scale(1.026,1)" font-family="'Liberation Sans',sans-serif" font-size="7.40" font-weight="bold" fill="#222" text-anchor="start">International tourism</text>
<text transform="translate(499.80,638.40) scale(0.806,1)" font-family="'Liberation Sans',sans-serif" font-size="6.40" fill="#6d6d6d" text-anchor="start">Number of overseas arrivals</text>
<rect x="499.40" y="661.30" width="48.60" height="61.90" rx="5.2" ry="5.2" fill="#2a84a6"/>
<rect x="512.30" y="642.30" width="21.70" height="4.00" rx="1" ry="1" fill="#2a84a6"/>
<rect x="514.00" y="643.30" width="3.90" height="19.00" fill="#2a84a6"/>
<rect x="529.00" y="643.30" width="3.90" height="19.00" fill="#2a84a6"/>
<path d="M506.30,722.20 V727.55 a3.25,3.25 0 0 0 6.50,0 V722.20 Z" fill="#2a84a6"/>
<path d="M534.60,722.20 V727.55 a3.25,3.25 0 0 0 6.50,0 V722.20 Z" fill="#2a84a6"/>
<rect x="551.80" y="673.00" width="40.40" height="50.20" rx="5.2" ry="5.2" fill="#c4161c"/>
<rect x="563.00" y="657.40" width="18.00" height="3.60" rx="1" ry="1" fill="#c4161c"/>
<rect x="564.80" y="658.40" width="3.30" height="15.60" fill="#c4161c"/>
<rect x="576.00" y="658.40" width="3.30" height="15.60" fill="#c4161c"/>
<path d="M557.20,722.20 V727.90 a2.90,2.90 0 0 0 5.80,0 V722.20 Z" fill="#c4161c"/>
<path d="M581.00,722.20 V727.90 a2.90,2.90 0 0 0 5.80,0 V722.20 Z" fill="#c4161c"/>
<g transform="translate(524.60,683.40) rotate(46)">
<path d="M-14.6,-2 L-10.8,-7.2 H13 V7.2 H-10.8 L-14.6,2 Z" fill="#fff"/>
<circle cx="-10.6" cy="0" r="1.6" fill="#2a84a6"/>
<text transform="translate(2.40,-0.60) scale(0.800,1)" font-family="'Liberation Sans',sans-serif" font-size="6.80" font-weight="bold" fill="#222" text-anchor="middle">69.768</text>
<text transform="translate(2.40,5.60) scale(0.800,1)" font-family="'Liberation Sans',sans-serif" font-size="6.80" font-weight="bold" fill="#222" text-anchor="middle">million</text>
</g>
<g transform="translate(573.20,691.30) rotate(46)">
<path d="M-14.6,-2 L-10.8,-7.2 H13 V7.2 H-10.8 L-14.6,2 Z" fill="#fff"/>
<circle cx="-10.6" cy="0" r="1.6" fill="#c4161c"/>
<text transform="translate(2.40,-0.60) scale(0.800,1)" font-family="'Liberation Sans',sans-serif" font-size="6.80" font-weight="bold" fill="#222" text-anchor="middle">55.686</text>
<text transform="translate(2.40,5.60) scale(0.800,1)" font-family="'Liberation Sans',sans-serif" font-size="6.80" font-weight="bold" fill="#222" text-anchor="middle">million</text>
</g>
<!-- energy -->
<text transform="translate(16.30,479.80) scale(0.970,1)" font-family="'Liberation Sans',sans-serif" font-size="7.60" font-weight="bold" fill="#222" text-anchor="start">Energy</text>
<text transform="translate(16.30,488.00) scale(0.827,1)" font-family="'Liberation Sans',sans-serif" font-size="6.40" fill="#6d6d6d" text-anchor="start">Last year China and the US announced new targets for greenhouse emissions as part of a</text>
<text transform="translate(16.30,494.70) scale(0.842,1)" font-family="'Liberation Sans',sans-serif" font-size="6.40" fill="#6d6d6d" text-anchor="start">deal to help global climate change</text>
<rect x="119.30" y="499.80" width="24.50" height="9.20" fill="#2a84a6"/>
<rect x="203.80" y="499.80" width="34.20" height="9.20" fill="#c4161c"/>
<text transform="translate(117.10,506.60) scale(0.855,1)" font-family="'Liberation Sans',sans-serif" font-size="6.40" font-weight="bold" fill="#222" text-anchor="end">2,224 Mtoe</text>
<text transform="translate(240.40,506.60) scale(0.855,1)" font-family="'Liberation Sans',sans-serif" font-size="6.40" font-weight="bold" fill="#222" text-anchor="start">3,034 Mtoe</text>
<text transform="translate(173.80,506.50) scale(0.806,1)" font-family="'Liberation Sans',sans-serif" font-size="6.40" fill="#6d6d6d" text-anchor="middle">Energy consumption</text>
<rect x="123.20" y="513.15" width="20.60" height="9.20" fill="#2a84a6"/>
<rect x="203.80" y="513.15" width="28.70" height="9.20" fill="#c4161c"/>
<text transform="translate(121.00,519.95) scale(0.855,1)" font-family="'Liberation Sans',sans-serif" font-size="6.40" font-weight="bold" fill="#222" text-anchor="end">1,989 Mtoe</text>
<text transform="translate(234.90,519.95) scale(0.855,1)" font-family="'Liberation Sans',sans-serif" font-size="6.40" font-weight="bold" fill="#222" text-anchor="start">2,555 Mtoe</text>
<text transform="translate(173.80,519.85) scale(0.818,1)" font-family="'Liberation Sans',sans-serif" font-size="6.40" fill="#6d6d6d" text-anchor="middle">Energy production</text>
<rect x="139.50" y="526.50" width="4.30" height="9.20" fill="#2a84a6"/>
<rect x="203.80" y="526.50" width="2.00" height="9.20" fill="#c4161c"/>
<text transform="translate(137.30,533.30) scale(0.855,1)" font-family="'Liberation Sans',sans-serif" font-size="6.40" font-weight="bold" fill="#222" text-anchor="end">510 mt</text>
<text transform="translate(208.20,533.30) scale(0.855,1)" font-family="'Liberation Sans',sans-serif" font-size="6.40" font-weight="bold" fill="#222" text-anchor="start">214 mt</text>
<text transform="translate(173.80,533.20) scale(0.821,1)" font-family="'Liberation Sans',sans-serif" font-size="6.40" fill="#6d6d6d" text-anchor="middle">Crude oil production</text>
<rect x="38.60" y="539.85" width="105.20" height="9.20" fill="#2a84a6"/>
<rect x="203.80" y="539.85" width="23.80" height="9.20" fill="#c4161c"/>
<text transform="translate(36.40,546.65) scale(0.855,1)" font-family="'Liberation Sans',sans-serif" font-size="6.40" font-weight="bold" fill="#222" text-anchor="end">732 bcm</text>
<text transform="translate(230.00,546.65) scale(0.855,1)" font-family="'Liberation Sans',sans-serif" font-size="6.40" font-weight="bold" fill="#222" text-anchor="start">127 bcm</text>
<text transform="translate(173.80,546.55) scale(0.823,1)" font-family="'Liberation Sans',sans-serif" font-size="6.40" fill="#6d6d6d" text-anchor="middle">Natural gas production</text>
<polygon points="58.10,539.55 60.20,539.55 57.20,549.35 55.10,549.35" fill="#fff"/>
<polygon points="217.70,539.55 219.80,539.55 222.80,549.35 220.70,549.35" fill="#fff"/>
<rect x="134.00" y="553.20" width="9.80" height="9.20" fill="#2a84a6"/>
<rect x="203.80" y="553.20" width="40.20" height="9.20" fill="#c4161c"/>
<text transform="translate(131.80,560.00) scale(0.855,1)" font-family="'Liberation Sans',sans-serif" font-size="6.40" font-weight="bold" fill="#222" text-anchor="end">924 mt</text>
<text transform="translate(246.40,560.00) scale(0.855,1)" font-family="'Liberation Sans',sans-serif" font-size="6.40" font-weight="bold" fill="#222" text-anchor="start">3,474 mt</text>
<text transform="translate(173.80,559.90) scale(0.829,1)" font-family="'Liberation Sans',sans-serif" font-size="6.40" fill="#6d6d6d" text-anchor="middle">Coal, lignite production</text>
<rect x="94.80" y="566.55" width="49.00" height="9.20" fill="#2a84a6"/>
<rect x="203.80" y="566.55" width="61.00" height="9.20" fill="#c4161c"/>
<text transform="translate(92.60,573.35) scale(0.855,1)" font-family="'Liberation Sans',sans-serif" font-size="6.40" font-weight="bold" fill="#222" text-anchor="end">4,330 TWh</text>
<text transform="translate(267.20,573.35) scale(0.855,1)" font-family="'Liberation Sans',sans-serif" font-size="6.40" font-weight="bold" fill="#222" text-anchor="start">5,583 TWh</text>
<text transform="translate(173.80,573.25) scale(0.872,1)" font-family="'Liberation Sans',sans-serif" font-size="6.40" fill="#6d6d6d" text-anchor="middle">Electricity production</text>
<rect x="79.00" y="579.90" width="64.80" height="9.20" fill="#2a84a6"/>
<rect x="203.80" y="579.90" width="96.20" height="9.20" fill="#c4161c"/>
<text transform="translate(76.80,586.70) scale(0.855,1)" font-family="'Liberation Sans',sans-serif" font-size="6.40" font-weight="bold" fill="#222" text-anchor="end">5,312 MtCO2</text>
<text transform="translate(302.40,586.70) scale(0.855,1)" font-family="'Liberation Sans',sans-serif" font-size="6.40" font-weight="bold" fill="#222" text-anchor="start">8,337 MtCO2</text>
<text transform="translate(173.80,586.60) scale(0.759,1)" font-family="'Liberation Sans',sans-serif" font-size="6.40" fill="#6d6d6d" text-anchor="middle">CO2 emission</text>
<!-- education -->
<text transform="translate(16.30,605.60) scale(0.953,1)" font-family="'Liberation Sans',sans-serif" font-size="7.60" font-weight="bold" fill="#222" text-anchor="start">Education</text>
<text transform="translate(16.30,612.90) scale(0.828,1)" font-family="'Liberation Sans',sans-serif" font-size="6.40" fill="#6d6d6d" text-anchor="start">Thirty per cent of US adults aged 25 and over had at least a bachelor's degree in 2011. The Chinese government has begun to finance education</text>
<text transform="translate(16.30,619.80) scale(0.826,1)" font-family="'Liberation Sans',sans-serif" font-size="6.40" fill="#6d6d6d" text-anchor="start">more heavily with about 4% of total GDP now invested in education. The number of enrolled college students was close to 24 million in 2012</text>
<rect x="98.70" y="634.00" width="44.80" height="9.20" fill="#2a84a6"/>
<rect x="203.30" y="634.00" width="96.70" height="9.20" fill="#c4161c"/>
<text transform="translate(96.50,640.80) scale(0.855,1)" font-family="'Liberation Sans',sans-serif" font-size="6.40" font-weight="bold" fill="#222" text-anchor="end">75.4 million</text>
<text transform="translate(302.40,640.80) scale(0.855,1)" font-family="'Liberation Sans',sans-serif" font-size="6.40" font-weight="bold" fill="#222" text-anchor="start">162.35 million</text>
<text transform="translate(173.60,638.40) scale(0.850,1)" font-family="'Liberation Sans',sans-serif" font-size="6.30" fill="#6d6d6d" text-anchor="middle">Enrollment in primary</text>
<text transform="translate(173.60,644.00) scale(0.799,1)" font-family="'Liberation Sans',sans-serif" font-size="6.30" fill="#6d6d6d" text-anchor="middle">and secondary</text>
<rect x="133.30" y="647.25" width="10.20" height="9.20" fill="#2a84a6"/>
<rect x="203.30" y="647.25" width="14.20" height="9.20" fill="#c4161c"/>
<text transform="translate(131.10,654.05) scale(0.855,1)" font-family="'Liberation Sans',sans-serif" font-size="6.40" font-weight="bold" fill="#222" text-anchor="end">17.65 million</text>
<text transform="translate(219.90,654.05) scale(0.855,1)" font-family="'Liberation Sans',sans-serif" font-size="6.40" font-weight="bold" fill="#222" text-anchor="start">24.68 million</text>
<text transform="translate(173.60,651.65) scale(0.835,1)" font-family="'Liberation Sans',sans-serif" font-size="6.30" fill="#6d6d6d" text-anchor="middle">Enrollment in</text>
<text transform="translate(173.60,657.25) scale(0.854,1)" font-family="'Liberation Sans',sans-serif" font-size="6.30" fill="#6d6d6d" text-anchor="middle">undergraduate</text>
<rect x="141.20" y="660.50" width="2.30" height="9.20" fill="#2a84a6"/>
<rect x="203.30" y="660.50" width="5.70" height="9.20" fill="#c4161c"/>
<text transform="translate(139.00,667.30) scale(0.855,1)" font-family="'Liberation Sans',sans-serif" font-size="6.40" font-weight="bold" fill="#222" text-anchor="end">3.52million</text>
<text transform="translate(211.40,667.30) scale(0.855,1)" font-family="'Liberation Sans',sans-serif" font-size="6.40" font-weight="bold" fill="#222" text-anchor="start">10.69 million</text>
<text transform="translate(173.60,664.90) scale(0.848,1)" font-family="'Liberation Sans',sans-serif" font-size="6.30" fill="#6d6d6d" text-anchor="middle">Primary and</text>
<text transform="translate(173.60,670.50) scale(0.819,1)" font-family="'Liberation Sans',sans-serif" font-size="6.30" fill="#6d6d6d" text-anchor="middle">secondary teachers</text>
<!-- health -->
<text transform="translate(16.30,680.70) scale(0.976,1)" font-family="'Liberation Sans',sans-serif" font-size="7.60" font-weight="bold" fill="#222" text-anchor="start">Health care</text>
<text transform="translate(16.30,689.60) scale(0.824,1)" font-family="'Liberation Sans',sans-serif" font-size="6.40" fill="#6d6d6d" text-anchor="start">Health care has long been in issue in the US. In 2010 the Patient Protection and Affordable Care Act, also known as Obamacare, was enacted</text>
<rect x="126.80" y="696.80" width="16.70" height="9.20" fill="#2a84a6"/>
<rect x="203.30" y="696.80" width="21.00" height="9.20" fill="#c4161c"/>
<text transform="translate(124.60,703.60) scale(0.855,1)" font-family="'Liberation Sans',sans-serif" font-size="6.40" font-weight="bold" fill="#222" text-anchor="end">2.9</text>
<text transform="translate(226.70,703.60) scale(0.855,1)" font-family="'Liberation Sans',sans-serif" font-size="6.40" font-weight="bold" fill="#222" text-anchor="start">3.8</text>
<text transform="translate(173.60,701.20) scale(0.812,1)" font-family="'Liberation Sans',sans-serif" font-size="6.30" fill="#6d6d6d" text-anchor="middle">Hospital beds</text>
<text transform="translate(173.60,706.80) scale(0.789,1)" font-family="'Liberation Sans',sans-serif" font-size="6.30" fill="#6d6d6d" text-anchor="middle">per 1,000</text>
<rect x="129.00" y="709.95" width="14.50" height="9.20" fill="#2a84a6"/>
<rect x="203.30" y="709.95" width="9.70" height="9.20" fill="#c4161c"/>
<text transform="translate(126.80,716.75) scale(0.855,1)" font-family="'Liberation Sans',sans-serif" font-size="6.40" font-weight="bold" fill="#222" text-anchor="end">2.5</text>
<text transform="translate(215.40,716.75) scale(0.855,1)" font-family="'Liberation Sans',sans-serif" font-size="6.40" font-weight="bold" fill="#222" text-anchor="start">1.8</text>
<text transform="translate(173.60,714.35) scale(0.830,1)" font-family="'Liberation Sans',sans-serif" font-size="6.30" fill="#6d6d6d" text-anchor="middle">Physicians</text>
<text transform="translate(173.60,719.95) scale(0.789,1)" font-family="'Liberation Sans',sans-serif" font-size="6.30" fill="#6d6d6d" text-anchor="middle">per 1,000</text>
<rect x="43.20" y="723.10" width="100.30" height="9.20" fill="#2a84a6"/>
<rect x="203.30" y="723.10" width="32.10" height="9.20" fill="#c4161c"/>
<text transform="translate(41.00,729.90) scale(0.855,1)" font-family="'Liberation Sans',sans-serif" font-size="6.40" font-weight="bold" fill="#222" text-anchor="end">17.1</text>
<text transform="translate(237.80,729.90) scale(0.855,1)" font-family="'Liberation Sans',sans-serif" font-size="6.40" font-weight="bold" fill="#222" text-anchor="start">5.6</text>
<text transform="translate(173.60,727.50) scale(0.847,1)" font-family="'Liberation Sans',sans-serif" font-size="6.30" fill="#6d6d6d" text-anchor="middle">Health expenditure</text>
<text transform="translate(173.60,733.10) scale(0.714,1)" font-family="'Liberation Sans',sans-serif" font-size="6.30" fill="#6d6d6d" text-anchor="middle">% of GDP</text>
<!-- bang -->
<text transform="translate(16.30,760.20) scale(0.933,1)" font-family="'Liberation Sans',sans-serif" font-size="7.60" font-weight="bold" fill="#222" text-anchor="start">Bang for your buck</text>
<text transform="translate(16.30,769.30) scale(0.829,1)" font-family="'Liberation Sans',sans-serif" font-size="6.40" fill="#6d6d6d" text-anchor="start">Salaries can vary widely in all countries accord-</text>
<text transform="translate(16.30,775.85) scale(0.835,1)" font-family="'Liberation Sans',sans-serif" font-size="6.40" fill="#6d6d6d" text-anchor="start">ing to sector and location. Below we compare the</text>
<text transform="translate(16.30,782.40) scale(0.827,1)" font-family="'Liberation Sans',sans-serif" font-size="6.40" fill="#6d6d6d" text-anchor="start">cost of living in Beijing and the US</text>
<text transform="translate(260.80,769.30) scale(0.826,1)" font-family="'Liberation Sans',sans-serif" font-size="6.40" fill="#6d6d6d" text-anchor="end">US social security authorities put the</text>
<text transform="translate(260.80,775.85) scale(0.808,1)" font-family="'Liberation Sans',sans-serif" font-size="6.40" fill="#6d6d6d" text-anchor="end">national average wage for American</text>
<text transform="translate(260.80,782.40) scale(0.790,1)" font-family="'Liberation Sans',sans-serif" font-size="6.40" fill="#6d6d6d" text-anchor="end">workers in 2013 at US$44,888</text>
<text transform="translate(431.50,769.30) scale(0.827,1)" font-family="'Liberation Sans',sans-serif" font-size="6.40" fill="#6d6d6d" text-anchor="start">Salary levels in China have made major gains over the last decade.</text>
<text transform="translate(431.50,775.85) scale(0.831,1)" font-family="'Liberation Sans',sans-serif" font-size="6.40" fill="#6d6d6d" text-anchor="start">In 2013, Beijing workers enjoyed the highest annual salaries, at</text>
<text transform="translate(431.50,782.40) scale(0.810,1)" font-family="'Liberation Sans',sans-serif" font-size="6.40" fill="#6d6d6d" text-anchor="start">about 93,000 yuan (US$14,600) on average. Henan province had</text>
<text transform="translate(431.50,788.95) scale(0.833,1)" font-family="'Liberation Sans',sans-serif" font-size="6.40" fill="#6d6d6d" text-anchor="start">the lowest average annual salary at about 38,000 yuan per year</text>
<g transform="translate(265.30,0)" fill="#2a84a6">
<rect x="-0.3" y="764.1" width="8.8" height="25" rx="1.2"/>
<path d="M11.00,768.30 C12.35,767.93 16.27,766.57 19.10,766.10 C21.93,765.63 25.43,765.45 28.00,765.50 C30.57,765.55 32.55,765.90 34.50,766.40 C36.45,766.90 37.85,767.95 39.70,768.50 C41.55,769.05 42.90,769.45 45.60,769.70 C48.30,769.95 53.40,769.78 55.90,770.00 C58.40,770.22 59.48,770.27 60.60,771.00 C61.72,771.73 62.60,773.28 62.60,774.40 C62.60,775.52 61.97,776.88 60.60,777.70 C59.23,778.52 56.90,778.97 54.40,779.30 C51.90,779.63 47.83,779.47 45.60,779.70 C43.37,779.93 41.77,780.53 41.00,780.70 L41.00,781.90 C42.25,782.13 46.02,783.08 48.50,783.30 C50.98,783.52 53.45,783.53 55.90,783.20 C58.35,782.87 61.00,782.20 63.20,781.30 C65.40,780.40 67.50,778.58 69.10,777.80 C70.70,777.02 71.78,776.60 72.80,776.60 C73.82,776.60 74.72,777.12 75.20,777.80 C75.68,778.48 75.98,779.60 75.70,780.70 C75.42,781.80 75.08,782.80 73.50,784.40 C71.92,786.00 68.40,788.70 66.20,790.30 C64.00,791.90 62.75,793.00 60.30,794.00 C57.85,795.00 54.68,795.80 51.50,796.30 C48.32,796.80 44.15,797.22 41.20,797.00 C38.25,796.78 36.75,796.07 33.80,795.00 C30.85,793.93 26.68,792.00 23.50,790.60 C20.32,789.20 16.78,787.48 14.70,786.60 C12.62,785.72 11.62,785.52 11.00,785.30 Z"/>
</g>
<g transform="translate(426.30,0) scale(-1,1)" fill="#c4161c">
<rect x="-0.3" y="764.1" width="8.8" height="25" rx="1.2"/>
<path d="M11.00,768.30 C12.35,767.93 16.27,766.57 19.10,766.10 C21.93,765.63 25.43,765.45 28.00,765.50 C30.57,765.55 32.55,765.90 34.50,766.40 C36.45,766.90 37.85,767.95 39.70,768.50 C41.55,769.05 42.90,769.45 45.60,769.70 C48.30,769.95 53.40,769.78 55.90,770.00 C58.40,770.22 59.48,770.27 60.60,771.00 C61.72,771.73 62.60,773.28 62.60,774.40 C62.60,775.52 61.97,776.88 60.60,777.70 C59.23,778.52 56.90,778.97 54.40,779.30 C51.90,779.63 47.83,779.47 45.60,779.70 C43.37,779.93 41.77,780.53 41.00,780.70 L41.00,781.90 C42.25,782.13 46.02,783.08 48.50,783.30 C50.98,783.52 53.45,783.53 55.90,783.20 C58.35,782.87 61.00,782.20 63.20,781.30 C65.40,780.40 67.50,778.58 69.10,777.80 C70.70,777.02 71.78,776.60 72.80,776.60 C73.82,776.60 74.72,777.12 75.20,777.80 C75.68,778.48 75.98,779.60 75.70,780.70 C75.42,781.80 75.08,782.80 73.50,784.40 C71.92,786.00 68.40,788.70 66.20,790.30 C64.00,791.90 62.75,793.00 60.30,794.00 C57.85,795.00 54.68,795.80 51.50,796.30 C48.32,796.80 44.15,797.22 41.20,797.00 C38.25,796.78 36.75,796.07 33.80,795.00 C30.85,793.93 26.68,792.00 23.50,790.60 C20.32,789.20 16.78,787.48 14.70,786.60 C12.62,785.72 11.62,785.52 11.00,785.30 Z"/>
</g>
<circle cx="313.00" cy="749.70" r="21.20" fill="#2a84a6" stroke="#fff" stroke-width="1"/>
<path d="M300.00,721.00 H325.60 Q327.20,721.40 326.30,722.60 L318.20,730.50 V733.50 H307.80 V730.50 L299.30,722.60 Q298.40,721.40 300.00,721.00 Z" fill="#2a84a6"/>
<text transform="translate(313.00,752.00) scale(0.895,1)" font-family="'Liberation Sans',sans-serif" font-size="6.80" font-weight="bold" fill="#fff" text-anchor="middle">$44,888</text>
<circle cx="382.40" cy="756.60" r="12.80" fill="#c4161c" stroke="#fff" stroke-width="1"/>
<path d="M374.40,738.40 H390.80 Q392.40,738.80 391.50,740.00 L386.60,744.60 V747.60 H378.40 V744.60 L373.70,740.00 Q372.80,738.80 374.40,738.40 Z" fill="#c4161c"/>
<text transform="translate(382.40,758.90) scale(0.875,1)" font-family="'Liberation Sans',sans-serif" font-size="6.80" font-weight="bold" fill="#fff" text-anchor="middle">$14,600</text>
<circle cx="37.30" cy="828.50" r="21.50" fill="#d8d8d8"/>
<g transform="translate(37.30,827.70)">
<ellipse cx="-6.6" cy="-10" rx="4.7" ry="5.1" fill="#fff"/><circle cx="-8.1" cy="-9.8" r="1.25" fill="#d8d8d8"/>
<path d="M-3,-12.4 H9.6 L11.2,-10.9 L9.6,-9.3 H9 l-0.9,1.5 l-1,-1.2 l-1,1.2 l-1,-1.2 l-1,1.2 l-1,-1.5 H-3 Z" fill="#fff"/>
<path d="M-8.2,3.3 L-6.6,-1.3 Q-6.2,-2.6 -4.8,-2.6 H4.8 Q6.2,-2.6 6.6,-1.3 L8.2,3.3 Q11.4,3.6 11.4,6 V12.4 H-11.4 V6 Q-11.4,3.6 -8.2,3.3 Z" fill="#fff"/>
<path d="M-6.4,3 L-5.2,-0.6 Q-5,-1.2 -4.3,-1.2 H4.3 Q5,-1.2 5.2,-0.6 L6.4,3 Z" fill="#d8d8d8"/>
<rect x="-10.4" y="11.5" width="4.3" height="4.9" rx="0.8" fill="#fff"/><rect x="6.1" y="11.5" width="4.3" height="4.9" rx="0.8" fill="#fff"/>
<circle cx="-7.8" cy="7" r="1.35" fill="#d8d8d8"/><circle cx="7.8" cy="7" r="1.35" fill="#d8d8d8"/>
</g>
<line x1="37.30" y1="849.80" x2="37.30" y2="869.30" stroke="#555" stroke-width="0.60"/>
<text transform="translate(37.30,878.40) scale(0.800,1)" font-family="'Liberation Sans',sans-serif" font-size="6.40" fill="#6d6d6d" text-anchor="middle">Car rental</text>
<text transform="translate(37.30,884.90) scale(0.855,1)" font-family="'Liberation Sans',sans-serif" font-size="6.40" font-weight="bold" fill="#c4161c" text-anchor="middle">US$25.30</text>
<line x1="37.30" y1="886.35" x2="37.30" y2="910.30" stroke="#555" stroke-width="0.60"/>
<text transform="translate(25.74,916.20) scale(0.855,1)" font-family="'Liberation Sans',sans-serif" font-size="6.40" font-weight="bold" fill="#c4161c" text-anchor="start">63%</text>
<text transform="translate(36.69,916.20) scale(0.855,1)" font-family="'Liberation Sans',sans-serif" font-size="6.40" font-weight="bold" fill="#222" text-anchor="start" style="white-space:pre"> less</text>
<text transform="translate(37.30,922.90) scale(0.855,1)" font-family="'Liberation Sans',sans-serif" font-size="6.40" font-weight="bold" fill="#222" text-anchor="middle">than the US</text>
<circle cx="37.30" cy="948.30" r="21.50" fill="#fff" stroke="#4a90ae" stroke-width="0.6"/>
<circle cx="37.30" cy="959.00" r="10.80" fill="#c4161c"/>
<circle cx="85.78" cy="828.50" r="21.50" fill="#d8d8d8"/>
<g transform="translate(85.78,827.70)">
<rect x="-13.1" y="-10.6" width="26.4" height="23.7" fill="#fff"/>
<polygon points="-10.60,-14.70 -10.08,-13.31 -8.60,-13.25 -9.76,-12.33 -9.37,-10.90 -10.60,-11.72 -11.83,-10.90 -11.44,-12.33 -12.60,-13.25 -11.12,-13.31" fill="#fff"/>
<polygon points="-5.20,-14.70 -4.68,-13.31 -3.20,-13.25 -4.36,-12.33 -3.97,-10.90 -5.20,-11.72 -6.43,-10.90 -6.04,-12.33 -7.20,-13.25 -5.72,-13.31" fill="#fff"/>
<polygon points="0.20,-14.70 0.72,-13.31 2.20,-13.25 1.04,-12.33 1.43,-10.90 0.20,-11.72 -1.03,-10.90 -0.64,-12.33 -1.80,-13.25 -0.32,-13.31" fill="#fff"/>
<polygon points="5.60,-14.70 6.12,-13.31 7.60,-13.25 6.44,-12.33 6.83,-10.90 5.60,-11.72 4.37,-10.90 4.76,-12.33 3.60,-13.25 5.08,-13.31" fill="#fff"/>
<polygon points="11.00,-14.70 11.52,-13.31 13.00,-13.25 11.84,-12.33 12.23,-10.90 11.00,-11.72 9.77,-10.90 10.16,-12.33 9.00,-13.25 10.48,-13.31" fill="#fff"/>
<rect x="-10.30" y="-7.50" width="5.2" height="3.40" fill="#d8d8d8"/>
<rect x="-10.30" y="-0.90" width="5.2" height="3.40" fill="#d8d8d8"/>
<rect x="-10.30" y="5.60" width="5.2" height="3.40" fill="#d8d8d8"/>
<rect x="-2.60" y="-7.50" width="5.2" height="3.40" fill="#d8d8d8"/>
<rect x="-2.60" y="-0.90" width="5.2" height="3.40" fill="#d8d8d8"/>
<rect x="-2.60" y="5.60" width="5.2" height="7.60" fill="#d8d8d8"/>
<rect x="5.50" y="-7.50" width="5.2" height="3.40" fill="#d8d8d8"/>
<rect x="5.50" y="-0.90" width="5.2" height="3.40" fill="#d8d8d8"/>
<rect x="5.50" y="5.60" width="5.2" height="3.40" fill="#d8d8d8"/>
</g>
<line x1="85.78" y1="849.80" x2="85.78" y2="869.30" stroke="#555" stroke-width="0.60"/>
<text transform="translate(85.78,878.40) scale(0.800,1)" font-family="'Liberation Sans',sans-serif" font-size="6.40" fill="#6d6d6d" text-anchor="middle">Five-star</text>
<text transform="translate(85.78,885.15) scale(0.800,1)" font-family="'Liberation Sans',sans-serif" font-size="6.40" fill="#6d6d6d" text-anchor="middle">hotel room</text>
<text transform="translate(85.78,891.90) scale(0.855,1)" font-family="'Liberation Sans',sans-serif" font-size="6.40" font-weight="bold" fill="#c4161c" text-anchor="middle">US$391.40</text>
<line x1="85.78" y1="893.10" x2="85.78" y2="910.30" stroke="#555" stroke-width="0.60"/>
<text transform="translate(74.38,916.20) scale(0.855,1)" font-family="'Liberation Sans',sans-serif" font-size="6.40" font-weight="bold" fill="#c4161c" text-anchor="start">3%</text>
<text transform="translate(82.28,916.20) scale(0.855,1)" font-family="'Liberation Sans',sans-serif" font-size="6.40" font-weight="bold" fill="#222" text-anchor="start" style="white-space:pre"> more</text>
<text transform="translate(85.78,922.90) scale(0.855,1)" font-family="'Liberation Sans',sans-serif" font-size="6.40" font-weight="bold" fill="#222" text-anchor="middle">than New York</text>
<circle cx="85.78" cy="948.30" r="21.40" fill="#c4161c"/>
<circle cx="85.78" cy="948.30" r="21.10" fill="none" stroke="#6fa6c4" stroke-width="0.6"/>
<circle cx="134.26" cy="828.50" r="21.50" fill="#d8d8d8"/>
<g transform="translate(134.26,827.70)">
<path d="M-2.1,-17.2 H2.1 V-14.2 Q2.3,-11.8 4.6,-9.2 Q6.5,-7 6.5,-4 V15.5 Q6.5,18 5,18 Q4.2,17.2 3.2,18 Q2.2,17.2 1.2,18 H-1.2 Q-2.2,17.2 -3.2,18 Q-4.2,17.2 -5,18 Q-6.5,18 -6.5,15.5 V-4 Q-6.5,-7 -4.6,-9.2 Q-2.3,-11.8 -2.1,-14.2 Z" fill="#fff"/>
</g>
<line x1="134.26" y1="849.80" x2="134.26" y2="869.30" stroke="#555" stroke-width="0.60"/>
<text transform="translate(134.26,878.40) scale(0.800,1)" font-family="'Liberation Sans',sans-serif" font-size="6.40" fill="#6d6d6d" text-anchor="middle">Two litres</text>
<text transform="translate(134.26,885.15) scale(0.800,1)" font-family="'Liberation Sans',sans-serif" font-size="6.40" fill="#6d6d6d" text-anchor="middle">of Coca Cola</text>
<text transform="translate(134.26,891.90) scale(0.855,1)" font-family="'Liberation Sans',sans-serif" font-size="6.40" font-weight="bold" fill="#c4161c" text-anchor="middle">US$1.30</text>
<line x1="134.26" y1="893.10" x2="134.26" y2="910.30" stroke="#555" stroke-width="0.60"/>
<text transform="translate(122.70,916.20) scale(0.855,1)" font-family="'Liberation Sans',sans-serif" font-size="6.40" font-weight="bold" fill="#c4161c" text-anchor="start">41%</text>
<text transform="translate(133.65,916.20) scale(0.855,1)" font-family="'Liberation Sans',sans-serif" font-size="6.40" font-weight="bold" fill="#222" text-anchor="start" style="white-space:pre"> less</text>
<text transform="translate(134.26,922.90) scale(0.855,1)" font-family="'Liberation Sans',sans-serif" font-size="6.40" font-weight="bold" fill="#222" text-anchor="middle">than New York</text>
<circle cx="134.26" cy="948.30" r="21.50" fill="#fff" stroke="#4a90ae" stroke-width="0.6"/>
<circle cx="134.26" cy="953.50" r="16.30" fill="#c4161c"/>
<circle cx="182.74" cy="828.50" r="21.50" fill="#d8d8d8"/>
<g transform="translate(182.74,827.70)">
<path d="M10,-7.4 H13.4 Q17.3,-7.4 17.3,-3.4 V3 Q17.3,6.6 13.6,7.4 L10,8.2 V4.8 L12.9,4.2 Q14.3,3.9 14.3,2.6 V-2.8 Q14.3,-4.2 13,-4.2 H10 Z" fill="#fff"/>
<path d="M-9.9,-9.5 H10.6 V11.4 Q10.6,12.4 11.8,13.2 Q11,15.2 6,15.2 H-6.6 Q-11.6,15.2 -12.4,13.2 Q-11.4,12.4 -11.3,11 Z" fill="#fff"/>
<rect x="-9.6" y="-12.6" width="19.6" height="4" fill="#fff"/>
<circle cx="-9.40" cy="-11.20" r="3.00" fill="#fff"/>
<circle cx="-5.00" cy="-13.60" r="3.20" fill="#fff"/>
<circle cx="0.40" cy="-14.40" r="3.40" fill="#fff"/>
<circle cx="5.40" cy="-13.40" r="3.10" fill="#fff"/>
<circle cx="8.60" cy="-11.20" r="2.80" fill="#fff"/>
<circle cx="-1.00" cy="-11.00" r="3.00" fill="#fff"/>
<path d="M-3.4,-8.6 V-3.4 Q-3.4,-1.6 -5,-1.6 Q-6.2,-1.6 -6.4,-3 M-6.6,-7 V-3.2 M-8.8,-8.2 V-2.4" stroke="#d8d8d8" stroke-width="0.55" fill="none"/>
</g>
<line x1="182.74" y1="849.80" x2="182.74" y2="869.30" stroke="#555" stroke-width="0.60"/>
<text transform="translate(182.74,878.40) scale(0.800,1)" font-family="'Liberation Sans',sans-serif" font-size="6.40" fill="#6d6d6d" text-anchor="middle">Beer in pub</text>
<text transform="translate(182.74,885.15) scale(0.800,1)" font-family="'Liberation Sans',sans-serif" font-size="6.40" fill="#6d6d6d" text-anchor="middle">in expat area</text>
<text transform="translate(182.74,891.90) scale(0.855,1)" font-family="'Liberation Sans',sans-serif" font-size="6.40" font-weight="bold" fill="#c4161c" text-anchor="middle">US$5.06</text>
<line x1="182.74" y1="893.10" x2="182.74" y2="910.30" stroke="#555" stroke-width="0.60"/>
<text transform="translate(171.18,916.20) scale(0.855,1)" font-family="'Liberation Sans',sans-serif" font-size="6.40" font-weight="bold" fill="#c4161c" text-anchor="start">28%</text>
<text transform="translate(182.13,916.20) scale(0.855,1)" font-family="'Liberation Sans',sans-serif" font-size="6.40" font-weight="bold" fill="#222" text-anchor="start" style="white-space:pre"> less</text>
<text transform="translate(182.74,922.90) scale(0.855,1)" font-family="'Liberation Sans',sans-serif" font-size="6.40" font-weight="bold" fill="#222" text-anchor="middle">than New York</text>
<circle cx="182.74" cy="948.30" r="21.50" fill="#fff" stroke="#4a90ae" stroke-width="0.6"/>
<circle cx="182.74" cy="951.60" r="18.20" fill="#c4161c"/>
<circle cx="231.22" cy="828.50" r="21.50" fill="#d8d8d8"/>
<g transform="translate(231.22,827.70)">
<path d="M-18.2,1.4 Q-17.4,-1.2 -13,-2.4 Q-8.6,-3.6 -5.4,-5.8 L-1.6,-8.8 Q-0.6,-9.4 0.4,-8.6 Q4.4,-5.4 8.8,-6.8 Q11.6,-7.8 12.6,-10.4 Q13.2,-11.6 14.4,-11 Q15.6,-10.4 15.8,-8.8 Q16.6,-3 18,2 V3.3 H-18.6 Z" fill="#fff"/>
<path d="M-18.9,4.2 H18.3 V5.8 Q18.3,7.9 16.2,7.9 H-15.6 Q-18.9,7.9 -18.9,5.2 Z" fill="#fff"/>
<path d="M-8.60,-3.2 l1.5,-1.1 l3.9,7 h-2.1 Z" fill="#d8d8d8"/>
<path d="M-4.90,-3.2 l1.5,-1.1 l3.9,7 h-2.1 Z" fill="#d8d8d8"/>
<path d="M-1.20,-3.2 l1.5,-1.1 l3.9,7 h-2.1 Z" fill="#d8d8d8"/>
</g>
<line x1="231.22" y1="849.80" x2="231.22" y2="869.30" stroke="#555" stroke-width="0.60"/>
<text transform="translate(231.22,878.40) scale(0.800,1)" font-family="'Liberation Sans',sans-serif" font-size="6.40" fill="#6d6d6d" text-anchor="middle">Sports shoes</text>
<text transform="translate(231.22,885.15) scale(0.800,1)" font-family="'Liberation Sans',sans-serif" font-size="6.40" fill="#6d6d6d" text-anchor="middle">(Adidas Super Star 2)</text>
<text transform="translate(231.22,891.90) scale(0.855,1)" font-family="'Liberation Sans',sans-serif" font-size="6.40" font-weight="bold" fill="#c4161c" text-anchor="middle">US$125.40</text>
<line x1="231.22" y1="893.10" x2="231.22" y2="910.30" stroke="#555" stroke-width="0.60"/>
<text transform="translate(218.29,916.20) scale(0.855,1)" font-family="'Liberation Sans',sans-serif" font-size="6.40" font-weight="bold" fill="#c4161c" text-anchor="start">57%</text>
<text transform="translate(229.25,916.20) scale(0.855,1)" font-family="'Liberation Sans',sans-serif" font-size="6.40" font-weight="bold" fill="#222" text-anchor="start" style="white-space:pre"> more</text>
<text transform="translate(231.22,922.90) scale(0.855,1)" font-family="'Liberation Sans',sans-serif" font-size="6.40" font-weight="bold" fill="#222" text-anchor="middle">than the US</text>
<circle cx="231.22" cy="948.30" r="21.40" fill="#c4161c"/>
<circle cx="231.22" cy="952.40" r="17.00" fill="none" stroke="#6fa6c4" stroke-width="0.6"/>
<circle cx="279.70" cy="828.50" r="21.50" fill="#d8d8d8"/>
<g transform="translate(279.70,827.70)">
<clipPath id="jc5"><circle cx="0" cy="0" r="20.4"/></clipPath>
<g clip-path="url(#jc5)">
<path d="M-15.4,-11.8 Q0,-9.6 15.2,-11.8 L22,24 H-22 Z" fill="#fff"/>
<path d="M0,4.2 L-3.9,22 H3.9 Z" fill="#d8d8d8"/>
<path d="M-1.7,-10 V2.6 M1.5,-10 V3.2" stroke="#d8d8d8" stroke-width="0.45" fill="none"/>
<path d="M-14.4,-9.6 Q-0,-7.6 14.4,-9.6" stroke="#d8d8d8" stroke-width="0.4" fill="none"/>
<path d="M-12.6,-9 Q-11.8,-3.4 -6.8,-2.6 M12.6,-9 Q11.8,-3.4 6.8,-2.6" stroke="#d8d8d8" stroke-width="0.45" fill="none"/>
<path d="M-13.6,-6 Q-14.8,6 -17.6,14 M13.6,-6 Q14.8,6 17.6,14" stroke="#d8d8d8" stroke-width="0.35" fill="none"/>
</g>
</g>
<line x1="279.70" y1="849.80" x2="279.70" y2="869.30" stroke="#555" stroke-width="0.60"/>
<text transform="translate(279.70,878.40) scale(0.800,1)" font-family="'Liberation Sans',sans-serif" font-size="6.40" fill="#6d6d6d" text-anchor="middle">Levis 501</text>
<text transform="translate(279.70,884.90) scale(0.855,1)" font-family="'Liberation Sans',sans-serif" font-size="6.40" font-weight="bold" fill="#c4161c" text-anchor="middle">US$86.10</text>
<line x1="279.70" y1="886.35" x2="279.70" y2="910.30" stroke="#555" stroke-width="0.60"/>
<text transform="translate(266.77,916.20) scale(0.855,1)" font-family="'Liberation Sans',sans-serif" font-size="6.40" font-weight="bold" fill="#c4161c" text-anchor="start">59%</text>
<text transform="translate(277.73,916.20) scale(0.855,1)" font-family="'Liberation Sans',sans-serif" font-size="6.40" font-weight="bold" fill="#222" text-anchor="start" style="white-space:pre"> more</text>
<text transform="translate(279.70,922.90) scale(0.855,1)" font-family="'Liberation Sans',sans-serif" font-size="6.40" font-weight="bold" fill="#222" text-anchor="middle">than New York</text>
<circle cx="279.70" cy="948.30" r="21.40" fill="#c4161c"/>
<circle cx="279.70" cy="952.50" r="16.90" fill="none" stroke="#6fa6c4" stroke-width="0.6"/>
<circle cx="328.18" cy="828.50" r="21.50" fill="#d8d8d8"/>
<g transform="translate(328.18,827.70)">
<rect x="-9.2" y="-17.2" width="17.9" height="34.4" rx="2.6" fill="#fff"/>
<rect x="-7.3" y="-11.6" width="14.2" height="22.9" fill="#d8d8d8"/>
<circle cx="-0.2" cy="14" r="1.15" fill="#d8d8d8"/><rect x="-2.2" y="-14.3" width="4" height="0.7" rx="0.3" fill="#d8d8d8"/>
</g>
<line x1="328.18" y1="849.80" x2="328.18" y2="869.30" stroke="#555" stroke-width="0.60"/>
<text transform="translate(328.18,878.40) scale(0.800,1)" font-family="'Liberation Sans',sans-serif" font-size="6.40" fill="#6d6d6d" text-anchor="middle">iPhone 6</text>
<text transform="translate(328.18,884.90) scale(0.855,1)" font-family="'Liberation Sans',sans-serif" font-size="6.40" font-weight="bold" fill="#c4161c" text-anchor="middle">US$862.40</text>
<line x1="328.18" y1="886.35" x2="328.18" y2="910.30" stroke="#555" stroke-width="0.60"/>
<text transform="translate(315.25,916.20) scale(0.855,1)" font-family="'Liberation Sans',sans-serif" font-size="6.40" font-weight="bold" fill="#c4161c" text-anchor="start">33%</text>
<text transform="translate(326.21,916.20) scale(0.855,1)" font-family="'Liberation Sans',sans-serif" font-size="6.40" font-weight="bold" fill="#222" text-anchor="start" style="white-space:pre"> more</text>
<text transform="translate(328.18,922.90) scale(0.855,1)" font-family="'Liberation Sans',sans-serif" font-size="6.40" font-weight="bold" fill="#222" text-anchor="middle">than the US</text>
<circle cx="328.18" cy="948.30" r="21.40" fill="#c4161c"/>
<circle cx="328.18" cy="951.00" r="18.40" fill="none" stroke="#6fa6c4" stroke-width="0.6"/>
<circle cx="376.66" cy="828.50" r="21.50" fill="#d8d8d8"/>
<g transform="translate(376.66,827.70)">
<path d="M-11.9,11.6 V-11 Q-11.9,-15.6 -7.4,-15.6 H6.9 Q11.4,-15.6 11.4,-11 V11.6 Z" fill="#fff"/>
<rect x="-10.6" y="10.6" width="4.4" height="4.6" rx="0.8" fill="#fff"/><rect x="5.8" y="10.6" width="4.4" height="4.6" rx="0.8" fill="#fff"/>
<path d="M-8.8,-10.2 H8.4 L9.9,-1.5 H-10.2 Z" fill="#d8d8d8"/>
<rect x="-5.6" y="-14" width="11.4" height="1.3" rx="0.6" fill="#d8d8d8"/>
<circle cx="-8.7" cy="4.9" r="1.5" fill="#d8d8d8"/><circle cx="8.6" cy="4.9" r="1.5" fill="#d8d8d8"/>
</g>
<line x1="376.66" y1="849.80" x2="376.66" y2="869.30" stroke="#555" stroke-width="0.60"/>
<text transform="translate(376.66,878.40) scale(0.800,1)" font-family="'Liberation Sans',sans-serif" font-size="6.40" fill="#6d6d6d" text-anchor="middle">Public transport</text>
<text transform="translate(376.66,885.15) scale(0.800,1)" font-family="'Liberation Sans',sans-serif" font-size="6.40" fill="#6d6d6d" text-anchor="middle">(minimum fare)</text>
<text transform="translate(376.66,891.90) scale(0.855,1)" font-family="'Liberation Sans',sans-serif" font-size="6.40" font-weight="bold" fill="#c4161c" text-anchor="middle">US$0.16</text>
<line x1="376.66" y1="893.10" x2="376.66" y2="910.30" stroke="#555" stroke-width="0.60"/>
<text transform="translate(365.10,916.20) scale(0.855,1)" font-family="'Liberation Sans',sans-serif" font-size="6.40" font-weight="bold" fill="#c4161c" text-anchor="start">94%</text>
<text transform="translate(376.05,916.20) scale(0.855,1)" font-family="'Liberation Sans',sans-serif" font-size="6.40" font-weight="bold" fill="#222" text-anchor="start" style="white-space:pre"> less</text>
<text transform="translate(376.66,922.90) scale(0.855,1)" font-family="'Liberation Sans',sans-serif" font-size="6.40" font-weight="bold" fill="#222" text-anchor="middle">than New York</text>
<circle cx="376.66" cy="948.30" r="21.50" fill="#fff" stroke="#4a90ae" stroke-width="0.6"/>
<circle cx="376.66" cy="964.60" r="5.20" fill="#c4161c"/>
<circle cx="425.14" cy="828.50" r="21.50" fill="#d8d8d8"/>
<g transform="translate(425.14,827.70)">
<path d="M-10.9,11.6 V-12.2 Q-10.9,-14.7 -8.4,-14.7 H2.9 Q5.4,-14.7 5.4,-12.2 V11.6 Z" fill="#fff"/>
<rect x="-12.9" y="11.2" width="20.3" height="2.8" rx="0.5" fill="#fff"/>
<rect x="-8.8" y="-12.4" width="11.8" height="7.5" rx="0.8" fill="#d8d8d8"/>
<path d="M5,1.6 H6.6 Q8.2,1.6 8.2,3.2 V7.4 Q8.2,10 10.6,10 Q13,10 13,7.4 V-2.6 L9.6,-6.6 V-11 L7.6,-13" stroke="#fff" stroke-width="1.7" fill="none" stroke-linejoin="round" stroke-linecap="round"/>
<path d="M8.4,-12.6 L13.2,-7.6 V-2 H10.2 V-6 L8.6,-7.6 Z" fill="#fff"/>
</g>
<line x1="425.14" y1="849.80" x2="425.14" y2="869.30" stroke="#555" stroke-width="0.60"/>
<text transform="translate(425.14,878.40) scale(0.800,1)" font-family="'Liberation Sans',sans-serif" font-size="6.40" fill="#6d6d6d" text-anchor="middle">1 litre of petrol</text>
<text transform="translate(425.14,884.90) scale(0.855,1)" font-family="'Liberation Sans',sans-serif" font-size="6.40" font-weight="bold" fill="#c4161c" text-anchor="middle">US$1.30</text>
<line x1="425.14" y1="886.35" x2="425.14" y2="910.30" stroke="#555" stroke-width="0.60"/>
<text transform="translate(412.21,916.20) scale(0.855,1)" font-family="'Liberation Sans',sans-serif" font-size="6.40" font-weight="bold" fill="#c4161c" text-anchor="start">74%</text>
<text transform="translate(423.17,916.20) scale(0.855,1)" font-family="'Liberation Sans',sans-serif" font-size="6.40" font-weight="bold" fill="#222" text-anchor="start" style="white-space:pre"> more</text>
<text transform="translate(425.14,922.90) scale(0.855,1)" font-family="'Liberation Sans',sans-serif" font-size="6.40" font-weight="bold" fill="#222" text-anchor="middle">than New York</text>
<circle cx="425.14" cy="948.30" r="21.40" fill="#c4161c"/>
<circle cx="425.14" cy="953.30" r="16.10" fill="none" stroke="#6fa6c4" stroke-width="0.6"/>
<circle cx="473.62" cy="828.50" r="21.50" fill="#d8d8d8"/>
<g transform="translate(473.62,827.70)">
<circle cx="-4.20" cy="-0.80" r="12.7" fill="#fff"/>
<circle cx="-4.20" cy="-7.50" r="3.05" fill="#d8d8d8"/>
<circle cx="-10.90" cy="-0.50" r="3.05" fill="#d8d8d8"/>
<circle cx="2.70" cy="-0.50" r="3.05" fill="#d8d8d8"/>
<circle cx="-4.20" cy="6.40" r="3.05" fill="#d8d8d8"/>
<circle cx="-4.20" cy="-0.60" r="0.9" fill="#d8d8d8"/>
<path d="M3.4,9.2 Q6.2,11.8 10.6,11.6 Q14.6,11.3 15.2,8.4" stroke="#fff" stroke-width="1.5" fill="none" stroke-linecap="round"/>
</g>
<line x1="473.62" y1="849.80" x2="473.62" y2="869.30" stroke="#555" stroke-width="0.60"/>
<text transform="translate(473.62,878.40) scale(0.800,1)" font-family="'Liberation Sans',sans-serif" font-size="6.40" fill="#6d6d6d" text-anchor="middle">A ticket to a movie</text>
<text transform="translate(473.62,885.15) scale(0.800,1)" font-family="'Liberation Sans',sans-serif" font-size="6.40" fill="#6d6d6d" text-anchor="middle">in a multiplex</text>
<text transform="translate(473.62,891.90) scale(0.855,1)" font-family="'Liberation Sans',sans-serif" font-size="6.40" font-weight="bold" fill="#c4161c" text-anchor="middle">US$12.15</text>
<line x1="473.62" y1="893.10" x2="473.62" y2="910.30" stroke="#555" stroke-width="0.60"/>
<text transform="translate(462.06,916.20) scale(0.855,1)" font-family="'Liberation Sans',sans-serif" font-size="6.40" font-weight="bold" fill="#c4161c" text-anchor="start">13%</text>
<text transform="translate(473.01,916.20) scale(0.855,1)" font-family="'Liberation Sans',sans-serif" font-size="6.40" font-weight="bold" fill="#222" text-anchor="start" style="white-space:pre"> less</text>
<text transform="translate(473.62,922.90) scale(0.855,1)" font-family="'Liberation Sans',sans-serif" font-size="6.40" font-weight="bold" fill="#222" text-anchor="middle">than New York</text>
<circle cx="473.62" cy="948.30" r="21.50" fill="#fff" stroke="#4a90ae" stroke-width="0.6"/>
<circle cx="473.62" cy="950.20" r="19.60" fill="#c4161c"/>
<circle cx="522.10" cy="828.50" r="21.50" fill="#d8d8d8"/>
<g transform="translate(522.10,827.70)">
<path d="M-0.9,-17.2 H5.2 Q7.7,-17.2 7.7,-14.7 V16.6 Q7.7,18.2 6.3,18.2 Q4.9,18.2 4.9,16.6 V1.6 H-0.9 Z" fill="#fff"/>
<rect x="-0.9" y="-15.30" width="5.6" height="0.45" fill="#d8d8d8"/>
<rect x="-0.9" y="-13.75" width="5.6" height="0.45" fill="#d8d8d8"/>
<rect x="-0.9" y="-12.20" width="5.6" height="0.45" fill="#d8d8d8"/>
<rect x="-0.9" y="-10.65" width="5.6" height="0.45" fill="#d8d8d8"/>
<rect x="-0.9" y="-9.10" width="5.6" height="0.45" fill="#d8d8d8"/>
<rect x="-0.9" y="-7.55" width="5.6" height="0.45" fill="#d8d8d8"/>
<rect x="-0.9" y="-6.00" width="5.6" height="0.45" fill="#d8d8d8"/>
<rect x="-0.9" y="-4.45" width="5.6" height="0.45" fill="#d8d8d8"/>
<rect x="-0.9" y="-2.90" width="5.6" height="0.45" fill="#d8d8d8"/>
<rect x="-0.9" y="-1.35" width="5.6" height="0.45" fill="#d8d8d8"/>
<rect x="-0.9" y="0.20" width="5.6" height="0.45" fill="#d8d8d8"/>
<path d="M-6.2,-17.4 L-4.3,-17.4 L-2.2,7 L-1.2,8.6 L-5,8.4 L-8.4,9 L-7.2,6.4 Z" fill="#fff"/>
<circle cx="-9.7" cy="11.3" r="2.4" fill="#d8d8d8" stroke="#fff" stroke-width="2.2"/>
<circle cx="-0.9" cy="11.6" r="2.4" fill="#d8d8d8" stroke="#fff" stroke-width="2.2"/>
<path d="M-0.6,14.6 L0.4,17.8" stroke="#fff" stroke-width="1.5" stroke-linecap="round"/>
</g>
<line x1="522.10" y1="849.80" x2="522.10" y2="869.30" stroke="#555" stroke-width="0.60"/>
<text transform="translate(522.10,878.40) scale(0.800,1)" font-family="'Liberation Sans',sans-serif" font-size="6.40" fill="#6d6d6d" text-anchor="middle">Men's haircut</text>
<text transform="translate(522.10,885.15) scale(0.800,1)" font-family="'Liberation Sans',sans-serif" font-size="6.40" fill="#6d6d6d" text-anchor="middle">in expat area</text>
<text transform="translate(522.10,891.90) scale(0.855,1)" font-family="'Liberation Sans',sans-serif" font-size="6.40" font-weight="bold" fill="#c4161c" text-anchor="middle">US$15.30</text>
<line x1="522.10" y1="893.10" x2="522.10" y2="910.30" stroke="#555" stroke-width="0.60"/>
<text transform="translate(510.54,916.20) scale(0.855,1)" font-family="'Liberation Sans',sans-serif" font-size="6.40" font-weight="bold" fill="#c4161c" text-anchor="start">23%</text>
<text transform="translate(521.49,916.20) scale(0.855,1)" font-family="'Liberation Sans',sans-serif" font-size="6.40" font-weight="bold" fill="#222" text-anchor="start" style="white-space:pre"> less</text>
<text transform="translate(522.10,922.90) scale(0.855,1)" font-family="'Liberation Sans',sans-serif" font-size="6.40" font-weight="bold" fill="#222" text-anchor="middle">than New York</text>
<circle cx="522.10" cy="948.30" r="21.50" fill="#fff" stroke="#4a90ae" stroke-width="0.6"/>
<circle cx="522.10" cy="951.20" r="18.60" fill="#c4161c"/>
<circle cx="570.58" cy="828.50" r="21.50" fill="#d8d8d8"/>
<g transform="translate(570.58,827.70)">
<rect x="-9.6" y="-14.4" width="20.2" height="28.3" rx="0.8" fill="#fff"/>
<rect x="-7.7" y="-12.4" width="16.1" height="5.9" fill="#d8d8d8"/>
<path d="M-9.6,-5.5 H-5.4 L-3.1,-0.7 H3.6 L5.9,-5.5 H10.6" stroke="#d8d8d8" stroke-width="0.55" fill="none"/>
<rect x="-5.6" y="2.1" width="12" height="7.6" fill="#d8d8d8"/>
</g>
<line x1="570.58" y1="849.80" x2="570.58" y2="869.30" stroke="#555" stroke-width="0.60"/>
<text transform="translate(570.58,878.40) scale(0.800,1)" font-family="'Liberation Sans',sans-serif" font-size="6.40" fill="#6d6d6d" text-anchor="middle">One pack of</text>
<text transform="translate(570.58,885.15) scale(0.800,1)" font-family="'Liberation Sans',sans-serif" font-size="6.40" fill="#6d6d6d" text-anchor="middle">Marlboro cigarettes</text>
<text transform="translate(570.58,891.90) scale(0.855,1)" font-family="'Liberation Sans',sans-serif" font-size="6.40" font-weight="bold" fill="#c4161c" text-anchor="middle">US$3.26</text>
<line x1="570.58" y1="893.10" x2="570.58" y2="910.30" stroke="#555" stroke-width="0.60"/>
<text transform="translate(559.02,916.20) scale(0.855,1)" font-family="'Liberation Sans',sans-serif" font-size="6.40" font-weight="bold" fill="#c4161c" text-anchor="start">75%</text>
<text transform="translate(569.97,916.20) scale(0.855,1)" font-family="'Liberation Sans',sans-serif" font-size="6.40" font-weight="bold" fill="#222" text-anchor="start" style="white-space:pre"> less</text>
<text transform="translate(570.58,922.90) scale(0.855,1)" font-family="'Liberation Sans',sans-serif" font-size="6.40" font-weight="bold" fill="#222" text-anchor="middle">than New York</text>
<circle cx="570.58" cy="948.30" r="21.50" fill="#fff" stroke="#4a90ae" stroke-width="0.6"/>
<circle cx="570.58" cy="959.20" r="10.60" fill="#c4161c"/>
<text transform="translate(16.00,987.60) scale(0.914,1)" font-family="'Liberation Sans',sans-serif" font-size="4.60" fill="#444" text-anchor="start">Sources: US Cencus Bureau, World Bank, National Bureau of Statistics of China, People's Republic of China Ministry of Education, Deutsche Bank, China Daily.com, Enerdata, Worldometers</text>
<text transform="translate(591.00,987.60) scale(0.882,1)" font-family="'Liberation Sans',sans-serif" font-size="4.60" fill="#444" text-anchor="end">SCMP Graphic: Dennis Wong</text>
</svg>
</body></html>
